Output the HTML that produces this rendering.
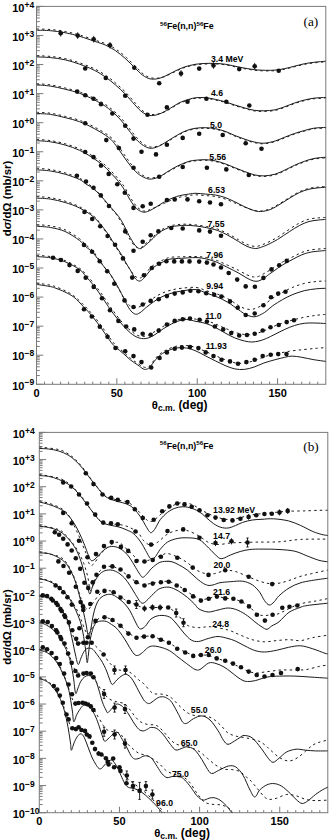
<!DOCTYPE html><html><head><meta charset="utf-8"><style>html,body{margin:0;padding:0;background:#fff;}svg{display:block;}</style></head><body>
<svg width="330" height="840" viewBox="0 0 330 840" font-family='"Liberation Sans", sans-serif'>
<rect width="330" height="840" fill="#fff"/>
<defs><clipPath id="ca"><rect x="36.50" y="6.40" width="289.30" height="377.90"/></clipPath><clipPath id="cb"><rect x="39.30" y="432.40" width="288.50" height="380.30"/></clipPath></defs>
<rect x="36.50" y="6.40" width="289.30" height="377.90" fill="none" stroke="#7a7a7a" stroke-width="1"/>
<path d="M36.50,6.40h6.8 M36.50,26.72h3.3 M36.50,21.60h3.3 M36.50,17.97h3.3 M36.50,15.15h3.3 M36.50,12.85h3.3 M36.50,10.90h3.3 M36.50,9.22h3.3 M36.50,7.73h3.3 M36.50,35.47h6.8 M36.50,55.79h3.3 M36.50,50.67h3.3 M36.50,47.04h3.3 M36.50,44.22h3.3 M36.50,41.92h3.3 M36.50,39.97h3.3 M36.50,38.29h3.3 M36.50,36.80h3.3 M36.50,64.54h6.8 M36.50,84.86h3.3 M36.50,79.74h3.3 M36.50,76.11h3.3 M36.50,73.29h3.3 M36.50,70.99h3.3 M36.50,69.04h3.3 M36.50,67.36h3.3 M36.50,65.87h3.3 M36.50,93.61h6.8 M36.50,113.93h3.3 M36.50,108.81h3.3 M36.50,105.18h3.3 M36.50,102.36h3.3 M36.50,100.06h3.3 M36.50,98.11h3.3 M36.50,96.42h3.3 M36.50,94.94h3.3 M36.50,122.68h6.8 M36.50,143.00h3.3 M36.50,137.88h3.3 M36.50,134.24h3.3 M36.50,131.43h3.3 M36.50,129.13h3.3 M36.50,127.18h3.3 M36.50,125.49h3.3 M36.50,124.01h3.3 M36.50,151.75h6.8 M36.50,172.06h3.3 M36.50,166.95h3.3 M36.50,163.31h3.3 M36.50,160.50h3.3 M36.50,158.20h3.3 M36.50,156.25h3.3 M36.50,154.56h3.3 M36.50,153.08h3.3 M36.50,180.82h6.8 M36.50,201.13h3.3 M36.50,196.02h3.3 M36.50,192.38h3.3 M36.50,189.57h3.3 M36.50,187.26h3.3 M36.50,185.32h3.3 M36.50,183.63h3.3 M36.50,182.15h3.3 M36.50,209.88h6.8 M36.50,230.20h3.3 M36.50,225.08h3.3 M36.50,221.45h3.3 M36.50,218.64h3.3 M36.50,216.33h3.3 M36.50,214.39h3.3 M36.50,212.70h3.3 M36.50,211.21h3.3 M36.50,238.95h6.8 M36.50,259.27h3.3 M36.50,254.15h3.3 M36.50,250.52h3.3 M36.50,247.70h3.3 M36.50,245.40h3.3 M36.50,243.46h3.3 M36.50,241.77h3.3 M36.50,240.28h3.3 M36.50,268.02h6.8 M36.50,288.34h3.3 M36.50,283.22h3.3 M36.50,279.59h3.3 M36.50,276.77h3.3 M36.50,274.47h3.3 M36.50,272.53h3.3 M36.50,270.84h3.3 M36.50,269.35h3.3 M36.50,297.09h6.8 M36.50,317.41h3.3 M36.50,312.29h3.3 M36.50,308.66h3.3 M36.50,305.84h3.3 M36.50,303.54h3.3 M36.50,301.60h3.3 M36.50,299.91h3.3 M36.50,298.42h3.3 M36.50,326.16h6.8 M36.50,346.48h3.3 M36.50,341.36h3.3 M36.50,337.73h3.3 M36.50,334.91h3.3 M36.50,332.61h3.3 M36.50,330.66h3.3 M36.50,328.98h3.3 M36.50,327.49h3.3 M36.50,355.23h6.8 M36.50,375.55h3.3 M36.50,370.43h3.3 M36.50,366.80h3.3 M36.50,363.98h3.3 M36.50,361.68h3.3 M36.50,359.73h3.3 M36.50,358.05h3.3 M36.50,356.56h3.3 M36.50,384.30h6.8 M44.54,384.30v-2.6 M52.57,384.30v-2.6 M60.61,384.30v-2.6 M68.64,384.30v-2.6 M76.68,384.30v-2.6 M84.72,384.30v-2.6 M92.75,384.30v-2.6 M100.79,384.30v-2.6 M108.83,384.30v-2.6 M116.86,384.30v-6 M124.90,384.30v-2.6 M132.93,384.30v-2.6 M140.97,384.30v-2.6 M149.01,384.30v-2.6 M157.04,384.30v-2.6 M165.08,384.30v-2.6 M173.11,384.30v-2.6 M181.15,384.30v-2.6 M189.19,384.30v-2.6 M197.22,384.30v-6 M205.26,384.30v-2.6 M213.29,384.30v-2.6 M221.33,384.30v-2.6 M229.37,384.30v-2.6 M237.40,384.30v-2.6 M245.44,384.30v-2.6 M253.48,384.30v-2.6 M261.51,384.30v-2.6 M269.55,384.30v-2.6 M277.58,384.30v-6 M285.62,384.30v-2.6 M293.66,384.30v-2.6 M301.69,384.30v-2.6 M309.73,384.30v-2.6 M317.76,384.30v-2.6" stroke="#7a7a7a" stroke-width="1" fill="none"/>
<text x="12.20" y="11.60" font-size="11" font-weight="bold">10<tspan font-size="8.5" dy="-4.1">+4</tspan></text>
<text x="12.20" y="40.67" font-size="11" font-weight="bold">10<tspan font-size="8.5" dy="-4.1">+3</tspan></text>
<text x="12.20" y="69.74" font-size="11" font-weight="bold">10<tspan font-size="8.5" dy="-4.1">+2</tspan></text>
<text x="12.20" y="98.81" font-size="11" font-weight="bold">10<tspan font-size="8.5" dy="-4.1">+1</tspan></text>
<text x="12.20" y="127.88" font-size="11" font-weight="bold">10<tspan font-size="8.5" dy="-4.1">+0</tspan></text>
<text x="12.20" y="156.95" font-size="11" font-weight="bold">10<tspan font-size="8.5" dy="-4.1">&#8722;1</tspan></text>
<text x="12.20" y="186.02" font-size="11" font-weight="bold">10<tspan font-size="8.5" dy="-4.1">&#8722;2</tspan></text>
<text x="12.20" y="215.08" font-size="11" font-weight="bold">10<tspan font-size="8.5" dy="-4.1">&#8722;3</tspan></text>
<text x="12.20" y="244.15" font-size="11" font-weight="bold">10<tspan font-size="8.5" dy="-4.1">&#8722;4</tspan></text>
<text x="12.20" y="273.22" font-size="11" font-weight="bold">10<tspan font-size="8.5" dy="-4.1">&#8722;5</tspan></text>
<text x="12.20" y="302.29" font-size="11" font-weight="bold">10<tspan font-size="8.5" dy="-4.1">&#8722;6</tspan></text>
<text x="12.20" y="331.36" font-size="11" font-weight="bold">10<tspan font-size="8.5" dy="-4.1">&#8722;7</tspan></text>
<text x="12.20" y="360.43" font-size="11" font-weight="bold">10<tspan font-size="8.5" dy="-4.1">&#8722;8</tspan></text>
<text x="12.20" y="389.50" font-size="11" font-weight="bold">10<tspan font-size="8.5" dy="-4.1">&#8722;9</tspan></text>
<text x="36.50" y="397.00" text-anchor="middle" font-size="11" font-weight="bold">0</text>
<text x="116.86" y="397.00" text-anchor="middle" font-size="11" font-weight="bold">50</text>
<text x="197.22" y="397.00" text-anchor="middle" font-size="11" font-weight="bold">100</text>
<text x="277.58" y="397.00" text-anchor="middle" font-size="11" font-weight="bold">150</text>
<text x="151.80" y="409.20" font-size="11.3" font-weight="bold">&#952;<tspan font-size="8.6" dy="1.5">c.m.</tspan><tspan dy="-1.5" font-size="11.9"> (deg)</tspan></text>
<text transform="translate(11.40,198.50) rotate(-90)" text-anchor="middle" font-size="11.4" font-weight="bold">d<tspan font-style="italic">&#963;</tspan>/d&#937; (mb/sr)</text>
<text x="160.00" y="29.30" font-size="8.9" font-weight="bold"><tspan font-size="6.2" dy="-3.4">56</tspan><tspan dy="3.4">Fe(n,n)</tspan><tspan font-size="6.2" dy="-3.4">56</tspan><tspan dy="3.4">Fe</tspan></text>
<text x="303.50" y="25.60" font-family="'Liberation Serif', serif" font-size="13.3">(a)</text>
<g clip-path="url(#ca)">
<path d="M36.50,30.20 C38.83,30.28 45.73,30.28 50.50,30.70 C55.27,31.12 60.25,31.77 65.10,32.70 C69.95,33.63 74.75,34.88 79.60,36.30 C84.45,37.72 89.85,39.72 94.20,41.20 C98.55,42.68 102.17,43.63 105.70,45.20 C109.23,46.77 112.17,48.42 115.40,50.60 C118.63,52.78 121.87,55.43 125.10,58.30 C128.33,61.17 131.87,64.98 134.80,67.80 C137.73,70.62 140.18,73.37 142.70,75.20 C145.22,77.03 147.48,78.20 149.90,78.80 C152.32,79.40 154.77,79.20 157.20,78.80 C159.63,78.40 161.67,77.62 164.50,76.40 C167.33,75.18 170.97,73.03 174.20,71.50 C177.43,69.97 180.27,68.42 183.90,67.20 C187.53,65.98 191.57,64.85 196.00,64.20 C200.43,63.55 205.65,63.30 210.50,63.30 C215.35,63.30 220.25,63.55 225.10,64.20 C229.95,64.85 234.75,66.30 239.60,67.20 C244.45,68.10 249.90,69.08 254.20,69.60 C258.50,70.12 261.92,70.22 265.40,70.30 C268.88,70.38 271.87,70.38 275.10,70.10 C278.33,69.82 281.57,69.25 284.80,68.60 C288.03,67.95 291.27,67.00 294.50,66.20 C297.73,65.40 300.97,64.45 304.20,63.80 C307.43,63.15 310.30,62.73 313.90,62.30 C317.50,61.87 323.82,61.38 325.80,61.20 M36.50,56.90 C38.83,57.02 45.73,57.12 50.50,57.60 C55.27,58.08 60.25,58.70 65.10,59.80 C69.95,60.90 74.75,62.47 79.60,64.20 C84.45,65.93 89.85,68.03 94.20,70.20 C98.55,72.37 102.17,74.75 105.70,77.20 C109.23,79.65 112.17,82.12 115.40,84.90 C118.63,87.68 121.87,90.58 125.10,93.90 C128.33,97.22 131.97,101.78 134.80,104.80 C137.63,107.82 139.68,110.23 142.10,112.00 C144.52,113.77 146.78,114.95 149.30,115.40 C151.82,115.85 154.32,115.52 157.20,114.70 C160.08,113.88 162.97,112.45 166.60,110.50 C170.23,108.55 175.32,104.85 179.00,103.00 C182.68,101.15 185.87,100.28 188.70,99.40 C191.53,98.52 193.17,97.98 196.00,97.70 C198.83,97.42 202.47,97.42 205.70,97.70 C208.93,97.98 212.17,98.72 215.40,99.40 C218.63,100.08 221.87,100.87 225.10,101.80 C228.33,102.73 231.57,103.98 234.80,105.00 C238.03,106.02 241.27,107.02 244.50,107.90 C247.73,108.78 250.97,109.82 254.20,110.30 C257.43,110.78 260.42,110.88 263.90,110.80 C267.38,110.72 271.62,110.48 275.10,109.80 C278.58,109.12 281.57,107.83 284.80,106.70 C288.03,105.57 291.27,104.10 294.50,103.00 C297.73,101.90 300.97,100.90 304.20,100.10 C307.43,99.30 310.30,98.65 313.90,98.20 C317.50,97.75 323.82,97.53 325.80,97.40 M36.50,84.80 C38.83,85.02 45.73,85.37 50.50,86.10 C55.27,86.83 60.25,88.00 65.10,89.20 C69.95,90.40 74.75,91.53 79.60,93.30 C84.45,95.07 89.85,97.60 94.20,99.80 C98.55,102.00 102.07,103.97 105.70,106.50 C109.33,109.03 113.07,112.25 116.00,115.00 C118.93,117.75 120.88,120.08 123.30,123.00 C125.72,125.92 128.08,129.50 130.50,132.50 C132.92,135.50 135.37,138.67 137.80,141.00 C140.23,143.33 142.87,145.28 145.10,146.50 C147.33,147.72 148.98,148.32 151.20,148.30 C153.42,148.28 155.78,147.53 158.40,146.40 C161.02,145.27 163.87,143.32 166.90,141.50 C169.93,139.68 173.37,137.32 176.60,135.50 C179.83,133.68 183.07,131.82 186.30,130.60 C189.53,129.38 192.77,128.68 196.00,128.20 C199.23,127.72 202.47,127.62 205.70,127.70 C208.93,127.78 212.17,128.10 215.40,128.70 C218.63,129.30 221.87,130.17 225.10,131.30 C228.33,132.43 231.57,134.20 234.80,135.50 C238.03,136.80 241.27,138.02 244.50,139.10 C247.73,140.18 250.97,141.32 254.20,142.00 C257.43,142.68 260.42,143.37 263.90,143.20 C267.38,143.03 271.62,142.00 275.10,141.00 C278.58,140.00 281.57,138.45 284.80,137.20 C288.03,135.95 291.27,134.60 294.50,133.50 C297.73,132.40 300.97,131.48 304.20,130.60 C307.43,129.72 310.30,128.73 313.90,128.20 C317.50,127.67 323.82,127.53 325.80,127.40 M36.50,113.50 C38.83,113.65 45.73,113.72 50.50,114.40 C55.27,115.08 60.25,116.38 65.10,117.60 C69.95,118.82 74.75,119.88 79.60,121.70 C84.45,123.52 89.35,125.87 94.20,128.50 C99.05,131.13 105.07,134.67 108.70,137.50 C112.33,140.33 113.57,142.42 116.00,145.50 C118.43,148.58 120.88,152.62 123.30,156.00 C125.72,159.38 128.08,162.88 130.50,165.80 C132.92,168.72 135.37,171.48 137.80,173.50 C140.23,175.52 142.87,176.97 145.10,177.90 C147.33,178.83 148.78,179.30 151.20,179.10 C153.62,178.90 156.58,178.12 159.60,176.70 C162.62,175.28 166.07,172.50 169.30,170.60 C172.53,168.70 175.77,166.83 179.00,165.30 C182.23,163.77 185.87,162.25 188.70,161.40 C191.53,160.55 193.17,160.48 196.00,160.20 C198.83,159.92 202.47,159.58 205.70,159.70 C208.93,159.82 212.17,160.22 215.40,160.90 C218.63,161.58 221.87,162.67 225.10,163.80 C228.33,164.93 231.57,166.42 234.80,167.70 C238.03,168.98 241.27,170.32 244.50,171.50 C247.73,172.68 250.97,174.07 254.20,174.80 C257.43,175.53 260.42,176.00 263.90,175.90 C267.38,175.80 271.62,175.17 275.10,174.20 C278.58,173.23 281.57,171.58 284.80,170.10 C288.03,168.62 291.27,166.75 294.50,165.30 C297.73,163.85 300.97,162.53 304.20,161.40 C307.43,160.27 310.30,159.20 313.90,158.50 C317.50,157.80 323.82,157.42 325.80,157.20 M36.50,140.60 C38.83,140.80 45.73,141.07 50.50,141.80 C55.27,142.53 60.25,143.58 65.10,145.00 C69.95,146.42 75.15,148.27 79.60,150.30 C84.05,152.33 87.75,154.57 91.80,157.20 C95.85,159.83 100.27,162.97 103.90,166.10 C107.53,169.23 110.93,173.13 113.60,176.00 C116.27,178.87 118.03,180.88 119.90,183.30 C121.77,185.72 123.03,187.62 124.80,190.50 C126.57,193.38 128.53,197.58 130.50,200.60 C132.47,203.62 134.57,206.70 136.60,208.60 C138.63,210.50 140.88,211.52 142.70,212.00 C144.52,212.48 145.48,212.18 147.50,211.50 C149.52,210.82 151.97,209.52 154.80,207.90 C157.63,206.28 160.87,203.70 164.50,201.80 C168.13,199.90 172.57,197.78 176.60,196.50 C180.63,195.22 185.47,194.63 188.70,194.10 C191.93,193.57 193.17,193.30 196.00,193.30 C198.83,193.30 202.47,193.82 205.70,194.10 C208.93,194.38 212.17,194.43 215.40,195.00 C218.63,195.57 221.87,196.37 225.10,197.50 C228.33,198.63 231.57,200.27 234.80,201.80 C238.03,203.33 241.42,205.28 244.50,206.70 C247.58,208.12 250.63,209.50 253.30,210.30 C255.97,211.10 257.68,211.62 260.50,211.50 C263.32,211.38 266.95,210.82 270.20,209.60 C273.45,208.38 276.77,206.10 280.00,204.20 C283.23,202.30 286.38,200.13 289.60,198.20 C292.82,196.27 296.07,194.10 299.30,192.60 C302.53,191.10 305.77,190.00 309.00,189.20 C312.23,188.40 315.90,188.12 318.70,187.80 C321.50,187.48 324.62,187.38 325.80,187.30 M36.50,169.80 C38.83,170.00 45.73,170.27 50.50,171.00 C55.27,171.73 60.25,172.78 65.10,174.20 C69.95,175.62 76.12,177.87 79.60,179.50 C83.08,181.13 83.72,182.47 86.00,184.00 C88.28,185.53 90.88,186.80 93.30,188.70 C95.72,190.60 98.08,192.87 100.50,195.40 C102.92,197.93 105.62,201.38 107.80,203.90 C109.98,206.42 111.83,208.45 113.60,210.50 C115.37,212.55 116.90,214.17 118.40,216.20 C119.90,218.23 121.37,220.55 122.60,222.70 C123.83,224.85 124.73,226.97 125.80,229.10 C126.87,231.23 127.95,233.55 129.00,235.50 C130.05,237.45 131.13,239.22 132.10,240.80 C133.07,242.38 133.90,243.87 134.80,245.00 C135.70,246.13 136.62,246.98 137.50,247.60 C138.38,248.22 139.05,248.87 140.10,248.70 C141.15,248.53 142.62,247.43 143.80,246.60 C144.98,245.77 145.62,245.10 147.20,243.70 C148.78,242.30 151.40,240.00 153.30,238.20 C155.20,236.40 156.58,234.42 158.60,232.90 C160.62,231.38 163.25,230.12 165.40,229.10 C167.55,228.08 169.40,227.35 171.50,226.80 C173.60,226.25 175.58,226.05 178.00,225.80 C180.42,225.55 183.00,225.27 186.00,225.30 C189.00,225.33 192.57,225.60 196.00,226.00 C199.43,226.40 203.07,226.98 206.60,227.70 C210.13,228.42 213.67,229.05 217.20,230.30 C220.73,231.55 224.25,233.33 227.80,235.20 C231.35,237.07 235.30,239.63 238.50,241.50 C241.70,243.37 244.18,245.23 247.00,246.40 C249.82,247.57 252.93,248.40 255.40,248.50 C257.87,248.60 259.70,247.67 261.80,247.00 C263.90,246.33 265.38,245.75 268.00,244.50 C270.62,243.25 273.90,241.67 277.50,239.50 C281.10,237.33 285.97,233.82 289.60,231.50 C293.23,229.18 296.07,227.27 299.30,225.60 C302.53,223.93 305.77,222.43 309.00,221.50 C312.23,220.57 315.90,220.35 318.70,220.00 C321.50,219.65 324.62,219.50 325.80,219.40 M36.50,198.10 C38.83,198.27 45.73,198.37 50.50,199.10 C55.27,199.83 60.25,201.02 65.10,202.50 C69.95,203.98 74.75,205.50 79.60,208.00 C84.45,210.50 89.70,213.50 94.20,217.50 C98.70,221.50 103.32,227.70 106.60,232.00 C109.88,236.30 111.47,239.60 113.90,243.30 C116.33,247.00 119.18,250.92 121.20,254.20 C123.22,257.48 124.53,260.47 126.00,263.00 C127.47,265.53 128.53,266.92 130.00,269.40 C131.47,271.88 133.38,275.98 134.80,277.90 C136.22,279.82 137.38,280.50 138.50,280.90 C139.62,281.30 140.28,281.12 141.50,280.30 C142.72,279.48 144.28,277.72 145.80,276.00 C147.32,274.28 148.78,271.80 150.60,270.00 C152.42,268.20 154.48,266.62 156.70,265.20 C158.92,263.78 161.68,262.52 163.90,261.50 C166.12,260.48 167.07,259.63 170.00,259.10 C172.93,258.57 177.17,258.55 181.50,258.30 C185.83,258.05 191.82,257.48 196.00,257.60 C200.18,257.72 203.07,258.20 206.60,259.00 C210.13,259.80 213.67,260.98 217.20,262.40 C220.73,263.82 224.25,265.73 227.80,267.50 C231.35,269.27 235.30,271.23 238.50,273.00 C241.70,274.77 244.53,276.78 247.00,278.10 C249.47,279.42 251.37,280.42 253.30,280.90 C255.23,281.38 256.82,281.45 258.60,281.00 C260.38,280.55 262.52,279.12 264.00,278.20 C265.48,277.28 266.05,276.57 267.50,275.50 C268.95,274.43 270.22,273.55 272.70,271.80 C275.18,270.05 279.17,267.02 282.40,265.00 C285.63,262.98 288.87,261.40 292.10,259.70 C295.33,258.00 298.57,256.08 301.80,254.80 C305.03,253.52 307.50,252.72 311.50,252.00 C315.50,251.28 323.42,250.75 325.80,250.50 M36.50,226.20 C38.83,226.42 45.73,226.62 50.50,227.50 C55.27,228.38 60.25,229.33 65.10,231.50 C69.95,233.67 76.12,237.93 79.60,240.50 C83.08,243.07 83.92,245.02 86.00,246.90 C88.08,248.78 89.88,249.48 92.10,251.80 C94.32,254.12 96.88,257.77 99.30,260.80 C101.72,263.83 104.57,267.47 106.60,270.00 C108.63,272.53 109.33,272.67 111.50,276.00 C113.67,279.33 117.12,285.40 119.60,290.00 C122.08,294.60 124.52,300.12 126.40,303.60 C128.28,307.08 129.38,309.13 130.90,310.90 C132.42,312.67 133.98,313.90 135.50,314.20 C137.02,314.50 138.18,313.85 140.00,312.70 C141.82,311.55 144.13,309.12 146.40,307.30 C148.67,305.48 151.18,303.47 153.60,301.80 C156.02,300.13 158.17,298.67 160.90,297.30 C163.63,295.93 166.57,294.65 170.00,293.60 C173.43,292.55 177.17,291.67 181.50,291.00 C185.83,290.33 191.82,289.23 196.00,289.60 C200.18,289.97 203.07,291.97 206.60,293.20 C210.13,294.43 213.67,295.48 217.20,297.00 C220.73,298.52 224.25,300.18 227.80,302.30 C231.35,304.42 235.67,307.75 238.50,309.70 C241.33,311.65 242.68,312.87 244.80,314.00 C246.92,315.13 249.25,316.08 251.20,316.50 C253.15,316.92 254.73,316.92 256.50,316.50 C258.27,316.08 260.22,314.85 261.80,314.00 C263.38,313.15 264.18,312.77 266.00,311.40 C267.82,310.03 269.97,307.75 272.70,305.80 C275.43,303.85 279.17,301.53 282.40,299.70 C285.63,297.87 288.47,296.30 292.10,294.80 C295.73,293.30 300.17,291.70 304.20,290.70 C308.23,289.70 312.70,289.20 316.30,288.80 C319.90,288.40 324.22,288.38 325.80,288.30 M36.50,256.60 C38.83,256.80 45.73,256.93 50.50,257.80 C55.27,258.67 60.25,259.85 65.10,261.80 C69.95,263.75 76.12,267.05 79.60,269.50 C83.08,271.95 83.65,273.83 86.00,276.50 C88.35,279.17 91.03,282.08 93.70,285.50 C96.37,288.92 99.28,293.08 102.00,297.00 C104.72,300.92 107.67,305.67 110.00,309.00 C112.33,312.33 113.78,314.20 116.00,317.00 C118.22,319.80 120.88,323.13 123.30,325.80 C125.72,328.47 128.08,331.05 130.50,333.00 C132.92,334.95 135.37,336.57 137.80,337.50 C140.23,338.43 142.67,338.82 145.10,338.60 C147.53,338.38 149.98,337.42 152.40,336.20 C154.82,334.98 157.18,332.92 159.60,331.30 C162.02,329.68 164.07,328.12 166.90,326.50 C169.73,324.88 173.37,322.77 176.60,321.60 C179.83,320.43 183.07,319.53 186.30,319.50 C189.53,319.47 192.77,320.75 196.00,321.40 C199.23,322.05 202.47,322.38 205.70,323.40 C208.93,324.42 212.17,325.90 215.40,327.50 C218.63,329.10 221.87,331.27 225.10,333.00 C228.33,334.73 231.57,336.57 234.80,337.90 C238.03,339.23 241.67,340.32 244.50,341.00 C247.33,341.68 249.38,342.00 251.80,342.00 C254.22,342.00 256.58,341.58 259.00,341.00 C261.42,340.42 263.62,339.63 266.30,338.50 C268.98,337.37 272.02,335.72 275.10,334.20 C278.18,332.68 281.57,330.85 284.80,329.40 C288.03,327.95 291.27,326.52 294.50,325.50 C297.73,324.48 300.97,323.72 304.20,323.30 C307.43,322.88 310.30,322.97 313.90,323.00 C317.50,323.03 323.82,323.42 325.80,323.50 M36.50,284.40 C38.83,284.77 47.25,285.95 50.50,286.60 C53.75,287.25 53.57,287.38 56.00,288.30 C58.43,289.22 62.07,290.58 65.10,292.10 C68.13,293.62 71.17,295.00 74.20,297.40 C77.23,299.80 80.27,303.33 83.30,306.50 C86.33,309.67 89.37,312.73 92.40,316.40 C95.43,320.07 98.37,324.17 101.50,328.50 C104.63,332.83 108.78,339.23 111.20,342.40 C113.62,345.57 113.98,345.65 116.00,347.50 C118.02,349.35 120.88,351.42 123.30,353.50 C125.72,355.58 128.08,358.08 130.50,360.00 C132.92,361.92 135.72,363.53 137.80,365.00 C139.88,366.47 141.63,368.08 143.00,368.80 C144.37,369.52 144.92,369.52 146.00,369.30 C147.08,369.08 147.87,369.13 149.50,367.50 C151.13,365.87 153.97,361.58 155.80,359.50 C157.63,357.42 158.88,356.28 160.50,355.00 C162.12,353.72 163.05,352.93 165.50,351.80 C167.95,350.67 171.73,348.83 175.20,348.20 C178.67,347.57 182.83,347.53 186.30,348.00 C189.77,348.47 192.77,349.67 196.00,351.00 C199.23,352.33 202.47,354.35 205.70,356.00 C208.93,357.65 212.17,359.32 215.40,360.90 C218.63,362.48 221.87,364.17 225.10,365.50 C228.33,366.83 231.57,368.25 234.80,368.90 C238.03,369.55 241.27,369.72 244.50,369.40 C247.73,369.08 250.97,368.07 254.20,367.00 C257.43,365.93 260.42,364.22 263.90,363.00 C267.38,361.78 271.62,360.65 275.10,359.70 C278.58,358.75 281.97,357.90 284.80,357.30 C287.63,356.70 289.27,356.10 292.10,356.10 C294.93,356.10 298.17,356.70 301.80,357.30 C305.43,357.90 309.90,359.02 313.90,359.70 C317.90,360.38 323.82,361.12 325.80,361.40" stroke="#1a1a1a" stroke-width="1" fill="none"/>
<path d="M36.51,29.00 C38.89,29.09 45.93,29.12 50.79,29.56 C55.66,29.99 60.74,30.66 65.69,31.62 C70.64,32.57 75.54,33.84 80.49,35.28 C85.43,36.71 90.96,38.73 95.38,40.24 C99.80,41.74 103.45,42.70 107.00,44.28 C110.55,45.86 113.47,47.52 116.70,49.72 C119.93,51.92 123.17,54.58 126.40,57.46 C129.63,60.34 133.24,64.21 136.10,67.00 C138.96,69.79 141.23,72.44 143.56,74.22 C145.90,75.99 147.82,76.99 150.09,77.65 C152.37,78.31 154.80,78.36 157.20,78.19 C159.60,78.01 161.67,77.62 164.50,76.61 C167.33,75.59 170.97,73.57 174.20,72.10 C177.43,70.63 180.27,69.02 183.90,67.80 C187.53,66.58 191.57,65.45 196.00,64.80 C200.43,64.15 205.65,63.90 210.50,63.90 C215.35,63.90 220.25,64.15 225.10,64.80 C229.95,65.45 234.75,66.90 239.60,67.80 C244.45,68.70 249.90,69.68 254.20,70.20 C258.50,70.72 261.92,70.82 265.40,70.90 C268.88,70.98 271.87,70.98 275.10,70.70 C278.33,70.42 281.57,69.85 284.80,69.20 C288.03,68.55 291.27,67.60 294.50,66.80 C297.73,66.00 300.97,65.05 304.20,64.40 C307.43,63.75 310.30,63.33 313.90,62.90 C317.50,62.47 323.82,61.98 325.80,61.80 M36.51,55.70 C38.89,55.83 45.93,55.96 50.79,56.46 C55.66,56.96 60.74,57.60 65.69,58.72 C70.64,59.84 75.54,61.42 80.49,63.18 C85.43,64.93 90.96,67.05 95.38,69.24 C99.80,71.42 103.45,73.82 107.00,76.28 C110.55,78.75 113.47,81.22 116.70,84.02 C119.93,86.82 123.17,89.73 126.40,93.06 C129.63,96.39 133.33,101.00 136.10,104.00 C138.87,106.99 140.78,109.32 143.02,111.03 C145.26,112.74 147.19,113.75 149.55,114.26 C151.91,114.77 154.36,114.64 157.20,114.09 C160.04,113.53 162.97,112.69 166.60,110.94 C170.23,109.19 175.32,105.42 179.00,103.60 C182.68,101.78 185.87,100.88 188.70,100.00 C191.53,99.12 193.17,98.58 196.00,98.30 C198.83,98.02 202.47,98.02 205.70,98.30 C208.93,98.58 212.17,99.32 215.40,100.00 C218.63,100.68 221.87,101.47 225.10,102.40 C228.33,103.33 231.57,104.58 234.80,105.60 C238.03,106.62 241.27,107.62 244.50,108.50 C247.73,109.38 250.97,110.42 254.20,110.90 C257.43,111.38 260.42,111.48 263.90,111.40 C267.38,111.32 271.62,111.08 275.10,110.40 C278.58,109.72 281.57,108.43 284.80,107.30 C288.03,106.17 291.27,104.70 294.50,103.60 C297.73,102.50 300.97,101.50 304.20,100.70 C307.43,99.90 310.30,99.25 313.90,98.80 C317.50,98.35 323.82,98.13 325.80,98.00 M36.51,83.60 C38.89,83.83 45.93,84.21 50.79,84.96 C55.66,85.71 60.74,86.90 65.69,88.12 C70.64,89.34 75.54,90.49 80.49,92.28 C85.43,94.06 90.96,96.62 95.38,98.84 C99.80,101.05 103.35,103.03 107.00,105.58 C110.65,108.13 114.37,111.36 117.30,114.12 C120.23,116.89 122.18,119.23 124.60,122.15 C127.02,125.08 129.38,128.68 131.80,131.68 C134.22,134.68 136.78,137.84 139.10,140.13 C141.42,142.43 143.71,144.30 145.74,145.46 C147.77,146.63 149.16,147.04 151.27,147.12 C153.38,147.20 155.80,146.78 158.40,145.92 C161.00,145.06 163.87,143.61 166.90,141.98 C169.93,140.34 173.37,137.90 176.60,136.10 C179.83,134.30 183.07,132.42 186.30,131.20 C189.53,129.98 192.77,129.28 196.00,128.80 C199.23,128.32 202.47,128.22 205.70,128.30 C208.93,128.38 212.17,128.70 215.40,129.30 C218.63,129.90 221.87,130.77 225.10,131.90 C228.33,133.03 231.57,134.80 234.80,136.10 C238.03,137.40 241.27,138.62 244.50,139.70 C247.73,140.78 250.97,141.92 254.20,142.60 C257.43,143.28 260.42,143.97 263.90,143.80 C267.38,143.63 271.62,142.60 275.10,141.60 C278.58,140.60 281.57,139.05 284.80,137.80 C288.03,136.55 291.27,135.20 294.50,134.10 C297.73,133.00 300.97,132.08 304.20,131.20 C307.43,130.32 310.30,129.33 313.90,128.80 C317.50,128.27 323.82,128.13 325.80,128.00 M36.51,112.30 C38.89,112.46 45.93,112.56 50.79,113.26 C55.66,113.96 60.74,115.28 65.69,116.52 C70.64,117.75 75.54,118.84 80.49,120.68 C85.43,122.51 90.46,124.88 95.38,127.54 C100.30,130.19 106.35,133.75 110.00,136.59 C113.65,139.44 114.87,141.53 117.30,144.62 C119.73,147.72 122.18,151.76 124.60,155.15 C127.02,158.55 129.38,162.07 131.80,164.98 C134.22,167.90 136.78,170.65 139.10,172.63 C141.42,174.61 143.71,175.98 145.74,176.86 C147.77,177.74 148.96,178.00 151.27,177.92 C153.58,177.83 156.60,177.47 159.60,176.35 C162.60,175.24 166.07,172.94 169.30,171.20 C172.53,169.46 175.77,167.43 179.00,165.90 C182.23,164.37 185.87,162.85 188.70,162.00 C191.53,161.15 193.17,161.08 196.00,160.80 C198.83,160.52 202.47,160.18 205.70,160.30 C208.93,160.42 212.17,160.82 215.40,161.50 C218.63,162.18 221.87,163.27 225.10,164.40 C228.33,165.53 231.57,167.02 234.80,168.30 C238.03,169.58 241.27,170.92 244.50,172.10 C247.73,173.28 250.97,174.67 254.20,175.40 C257.43,176.13 260.42,176.60 263.90,176.50 C267.38,176.40 271.62,175.77 275.10,174.80 C278.58,173.83 281.57,172.18 284.80,170.70 C288.03,169.22 291.27,167.35 294.50,165.90 C297.73,164.45 300.97,163.13 304.20,162.00 C307.43,160.87 310.30,159.80 313.90,159.10 C317.50,158.40 323.82,158.02 325.80,157.80 M36.51,139.40 C38.89,139.61 45.93,139.91 50.79,140.66 C55.66,141.41 60.74,142.48 65.69,143.92 C70.64,145.35 75.95,147.22 80.49,149.28 C85.03,151.33 88.81,153.58 92.93,156.23 C97.05,158.88 101.54,162.03 105.20,165.17 C108.86,168.32 112.23,172.24 114.90,175.11 C117.57,177.99 119.33,180.01 121.20,182.44 C123.07,184.86 124.33,186.77 126.10,189.66 C127.87,192.55 129.83,196.77 131.80,199.78 C133.77,202.80 135.94,205.89 137.90,207.76 C139.86,209.63 141.89,210.56 143.56,210.99 C145.23,211.43 146.05,210.94 147.92,210.37 C149.79,209.79 152.04,208.76 154.80,207.56 C157.56,206.37 160.87,204.80 164.50,203.21 C168.13,201.62 172.57,199.27 176.60,198.00 C180.63,196.73 185.47,196.13 188.70,195.60 C191.93,195.07 193.17,194.80 196.00,194.80 C198.83,194.80 202.47,195.32 205.70,195.60 C208.93,195.88 212.17,195.93 215.40,196.50 C218.63,197.07 221.87,197.93 225.10,199.00 C228.33,200.07 231.57,201.59 234.80,202.94 C238.03,204.29 241.42,205.91 244.50,207.11 C247.58,208.32 250.63,209.51 253.30,210.17 C255.97,210.83 257.68,211.31 260.50,211.08 C263.32,210.85 266.95,210.08 270.20,208.80 C273.45,207.52 276.77,205.30 280.00,203.40 C283.23,201.50 286.38,199.33 289.60,197.40 C292.82,195.47 296.07,193.30 299.30,191.80 C302.53,190.30 305.77,189.20 309.00,188.40 C312.23,187.60 315.90,187.32 318.70,187.00 C321.50,186.68 324.62,186.58 325.80,186.50 M36.50,168.30 C38.83,168.52 45.73,168.82 50.50,169.59 C55.27,170.35 60.25,171.43 65.10,172.87 C69.95,174.32 76.12,176.61 79.60,178.26 C83.08,179.91 83.72,181.25 86.00,182.80 C88.28,184.34 91.02,185.63 93.30,187.54 C95.58,189.46 97.51,191.74 99.67,194.28 C101.84,196.83 104.23,200.30 106.30,202.83 C108.37,205.36 110.33,207.40 112.10,209.46 C113.87,211.52 115.40,213.11 116.90,215.19 C118.40,217.27 119.87,219.71 121.10,221.96 C122.33,224.21 123.23,226.44 124.30,228.68 C125.37,230.92 126.38,233.34 127.50,235.40 C128.62,237.46 129.88,239.33 130.99,241.01 C132.11,242.69 133.13,244.38 134.20,245.48 C135.27,246.58 136.42,247.15 137.41,247.60 C138.39,248.05 139.03,248.56 140.10,248.18 C141.17,247.80 142.62,246.33 143.80,245.34 C144.98,244.35 145.62,243.65 147.20,242.22 C148.78,240.79 151.40,238.56 153.30,236.78 C155.20,234.99 156.58,233.02 158.60,231.52 C160.62,230.03 163.25,228.78 165.40,227.79 C167.55,226.79 169.40,226.07 171.50,225.54 C173.60,225.01 175.58,224.83 178.00,224.60 C180.42,224.37 183.00,224.11 186.00,224.17 C189.00,224.23 192.57,224.56 196.00,224.96 C199.43,225.36 203.07,225.90 206.60,226.57 C210.13,227.23 213.67,227.78 217.20,228.96 C220.73,230.14 224.25,231.85 227.80,233.64 C231.35,235.44 235.30,237.93 238.50,239.73 C241.70,241.53 244.18,243.34 247.00,244.46 C249.82,245.58 252.93,246.38 255.40,246.45 C257.87,246.52 259.70,245.57 261.80,244.88 C263.90,244.19 265.38,243.60 268.00,242.32 C270.62,241.04 273.90,239.43 277.50,237.22 C281.10,235.02 285.97,231.46 289.60,229.10 C293.23,226.75 296.07,224.76 299.30,223.11 C302.53,221.45 305.77,220.05 309.00,219.17 C312.23,218.30 315.90,218.16 318.70,217.86 C321.50,217.56 324.62,217.47 325.80,217.40 M36.50,196.60 C38.83,196.78 45.73,196.92 50.50,197.69 C55.27,198.45 60.25,199.66 65.10,201.17 C69.95,202.69 74.75,204.23 79.60,206.76 C84.45,209.29 89.95,212.32 94.20,216.35 C98.45,220.37 102.07,226.60 105.10,230.92 C108.13,235.24 109.97,238.57 112.40,242.26 C114.83,245.96 117.68,249.89 119.70,253.07 C121.72,256.26 123.03,258.99 124.50,261.37 C125.97,263.75 126.88,265.02 128.50,267.35 C130.12,269.68 132.53,273.57 134.20,275.34 C135.87,277.11 137.28,277.61 138.50,277.95 C139.72,278.30 140.28,278.19 141.50,277.42 C142.72,276.65 144.28,274.97 145.80,273.32 C147.32,271.68 148.78,269.27 150.60,267.55 C152.42,265.84 154.48,264.37 156.70,263.04 C158.92,261.72 161.68,260.55 163.90,259.60 C166.12,258.65 167.07,257.81 170.00,257.35 C172.93,256.89 177.17,256.98 181.50,256.84 C185.83,256.70 191.82,256.36 196.00,256.50 C200.18,256.64 203.07,257.02 206.60,257.71 C210.13,258.40 213.67,259.38 217.20,260.64 C220.73,261.90 224.25,263.66 227.80,265.26 C231.35,266.87 235.30,268.69 238.50,270.29 C241.70,271.89 244.53,273.76 247.00,274.86 C249.47,275.96 251.37,276.65 253.30,276.90 C255.23,277.16 256.82,276.94 258.60,276.39 C260.38,275.83 262.52,274.38 264.00,273.57 C265.48,272.77 266.05,272.39 267.50,271.53 C268.95,270.67 270.22,270.00 272.70,268.44 C275.18,266.87 279.17,263.99 282.40,262.12 C285.63,260.25 288.87,258.84 292.10,257.23 C295.33,255.62 298.57,253.70 301.80,252.46 C305.03,251.23 307.50,250.46 311.50,249.80 C315.50,249.14 323.42,248.71 325.80,248.50 M36.50,224.70 C38.83,224.90 45.73,225.06 50.50,225.91 C55.27,226.77 60.25,227.69 65.10,229.83 C69.95,231.96 76.12,236.19 79.60,238.74 C83.08,241.29 83.92,243.23 86.00,245.10 C88.08,246.97 89.99,247.66 92.10,249.97 C94.21,252.27 96.49,255.90 98.66,258.92 C100.82,261.94 103.21,265.56 105.10,268.08 C106.99,270.60 107.83,270.73 110.00,274.05 C112.17,277.37 115.62,283.74 118.10,288.00 C120.58,292.26 122.99,296.68 124.90,299.60 C126.81,302.52 127.88,304.20 129.57,305.49 C131.26,306.79 133.29,307.18 135.03,307.36 C136.77,307.53 138.11,307.36 140.00,306.56 C141.89,305.75 144.13,303.96 146.40,302.53 C148.67,301.09 151.18,299.41 153.60,297.94 C156.02,296.48 158.17,294.99 160.90,293.74 C163.63,292.48 166.57,291.31 170.00,290.40 C173.43,289.49 177.17,288.75 181.50,288.26 C185.83,287.77 191.82,287.01 196.00,287.44 C200.18,287.87 203.07,289.72 206.60,290.82 C210.13,291.91 213.67,292.69 217.20,294.00 C220.73,295.32 224.25,296.79 227.80,298.69 C231.35,300.59 235.67,303.76 238.50,305.41 C241.33,307.06 242.68,307.92 244.80,308.59 C246.92,309.26 249.25,309.54 251.20,309.44 C253.15,309.34 254.73,308.66 256.50,308.00 C258.27,307.34 260.22,306.31 261.80,305.50 C263.38,304.69 264.18,304.33 266.00,303.14 C267.82,301.94 269.97,300.10 272.70,298.33 C275.43,296.55 279.17,294.28 282.40,292.49 C285.63,290.69 288.47,289.07 292.10,287.57 C295.73,286.06 300.17,284.45 304.20,283.44 C308.23,282.43 312.70,281.93 316.30,281.52 C319.90,281.11 324.22,281.09 325.80,281.00 M36.50,255.40 C38.83,255.60 45.73,255.73 50.50,256.60 C55.27,257.47 60.25,258.65 65.10,260.60 C69.95,262.55 76.12,265.99 79.60,268.30 C83.08,270.61 83.65,271.95 86.00,274.45 C88.35,276.95 91.03,279.99 93.70,283.33 C96.37,286.67 99.28,290.65 102.00,294.48 C104.72,298.31 107.67,302.95 110.00,306.30 C112.33,309.65 113.78,311.69 116.00,314.57 C118.22,317.45 120.88,320.92 123.30,323.57 C125.72,326.23 128.08,328.51 130.50,330.50 C132.92,332.49 135.37,334.55 137.80,335.50 C140.23,336.45 142.67,336.62 145.10,336.20 C147.53,335.78 149.98,334.28 152.40,333.00 C154.82,331.72 157.18,329.92 159.60,328.50 C162.02,327.08 164.07,325.88 166.90,324.50 C169.73,323.12 173.37,321.25 176.60,320.20 C179.83,319.15 183.07,318.37 186.30,318.20 C189.53,318.03 191.97,318.55 196.00,319.20 C200.03,319.85 205.65,320.60 210.50,322.10 C215.35,323.60 220.65,326.38 225.10,328.20 C229.55,330.02 233.17,331.92 237.20,333.00 C241.23,334.08 245.25,334.90 249.30,334.70 C253.35,334.50 257.20,333.28 261.50,331.80 C265.80,330.32 270.42,327.62 275.10,325.80 C279.78,323.98 284.75,322.32 289.60,320.90 C294.45,319.48 299.75,318.23 304.20,317.30 C308.65,316.37 312.70,315.78 316.30,315.30 C319.90,314.82 324.22,314.55 325.80,314.40 M36.50,283.00 C38.83,283.37 47.25,284.55 50.50,285.20 C53.75,285.85 53.57,285.98 56.00,286.90 C58.43,287.82 62.07,289.16 65.10,290.70 C68.13,292.24 71.17,293.85 74.20,296.17 C77.23,298.48 80.27,301.57 83.30,304.60 C86.33,307.63 89.37,310.78 92.40,314.36 C95.43,317.94 98.37,321.83 101.50,326.07 C104.63,330.31 108.78,336.57 111.20,339.81 C113.62,343.05 113.98,343.49 116.00,345.50 C118.02,347.51 120.88,349.76 123.30,351.88 C125.72,354.01 128.08,356.32 130.50,358.26 C132.92,360.19 135.72,362.08 137.80,363.50 C139.88,364.92 141.55,366.17 143.00,366.80 C144.45,367.43 145.33,367.52 146.50,367.30 C147.67,367.08 148.45,367.05 150.00,365.50 C151.55,363.95 154.05,360.00 155.80,358.00 C157.55,356.00 158.88,354.78 160.50,353.50 C162.12,352.22 163.05,351.47 165.50,350.30 C167.95,349.13 171.73,347.30 175.20,346.50 C178.67,345.70 182.83,345.32 186.30,345.50 C189.77,345.68 191.97,346.25 196.00,347.60 C200.03,348.95 205.65,351.58 210.50,353.60 C215.35,355.62 220.45,358.08 225.10,359.70 C229.75,361.32 233.95,363.02 238.40,363.30 C242.85,363.58 247.15,362.60 251.80,361.40 C256.45,360.20 262.42,357.32 266.30,356.10 C270.18,354.88 271.22,354.92 275.10,354.10 C278.98,353.28 284.75,351.97 289.60,351.20 C294.45,350.43 299.75,349.98 304.20,349.50 C308.65,349.02 312.70,348.62 316.30,348.30 C319.90,347.98 324.22,347.72 325.80,347.60" stroke="#1a1a1a" stroke-width="1" fill="none" stroke-dasharray="2.4,3.2"/>
<path d="M60.70,29.90v6.60 M77.70,32.30v6.60 M93.70,35.90v6.60 M110.00,42.00v6.60 M181.00,70.20v6.60 M213.50,62.20v6.60 M254.70,62.90v6.60" stroke="#111" stroke-width="0.9" fill="none"/>
<g fill="#111"><circle cx="60.70" cy="33.20" r="2.3"/><circle cx="77.70" cy="35.60" r="2.3"/><circle cx="93.70" cy="39.20" r="2.3"/><circle cx="110.00" cy="45.30" r="2.3"/><circle cx="134.30" cy="67.80" r="2.3"/><circle cx="159.20" cy="83.20" r="2.3"/><circle cx="181.00" cy="73.50" r="2.3"/><circle cx="199.20" cy="68.60" r="2.3"/><circle cx="213.50" cy="65.50" r="2.3"/><circle cx="239.20" cy="69.10" r="2.3"/><circle cx="254.70" cy="66.20" r="2.3"/><circle cx="278.70" cy="70.80" r="2.3"/><circle cx="85.20" cy="68.50" r="2.3"/><circle cx="105.80" cy="78.00" r="2.3"/><circle cx="125.20" cy="95.80" r="2.3"/><circle cx="147.50" cy="114.70" r="2.3"/><circle cx="166.90" cy="107.40" r="2.3"/><circle cx="187.50" cy="101.80" r="2.3"/><circle cx="206.40" cy="98.70" r="2.3"/><circle cx="226.30" cy="101.80" r="2.3"/><circle cx="249.30" cy="105.50" r="2.3"/><circle cx="77.20" cy="91.60" r="2.3"/><circle cx="85.20" cy="95.30" r="2.3"/><circle cx="93.50" cy="98.70" r="2.3"/><circle cx="101.00" cy="104.20" r="2.3"/><circle cx="112.40" cy="113.50" r="2.3"/><circle cx="125.20" cy="125.80" r="2.3"/><circle cx="133.50" cy="138.60" r="2.3"/><circle cx="141.50" cy="151.70" r="2.3"/><circle cx="156.00" cy="154.40" r="2.3"/><circle cx="166.90" cy="144.70" r="2.3"/><circle cx="182.70" cy="137.90" r="2.3"/><circle cx="199.20" cy="133.80" r="2.3"/><circle cx="222.70" cy="135.00" r="2.3"/><circle cx="245.70" cy="143.20" r="2.3"/><circle cx="261.50" cy="148.80" r="2.3"/><circle cx="85.20" cy="123.20" r="2.3"/><circle cx="106.30" cy="140.10" r="2.3"/><circle cx="118.90" cy="148.00" r="2.3"/><circle cx="133.50" cy="167.70" r="2.3"/><circle cx="159.20" cy="176.70" r="2.3"/><circle cx="182.70" cy="167.00" r="2.3"/><circle cx="206.90" cy="167.70" r="2.3"/><circle cx="226.30" cy="169.40" r="2.3"/><circle cx="248.80" cy="175.00" r="2.3"/><circle cx="85.20" cy="152.00" r="2.3"/><circle cx="93.50" cy="157.10" r="2.3"/><circle cx="101.00" cy="165.60" r="2.3"/><circle cx="108.70" cy="173.90" r="2.3"/><circle cx="117.30" cy="184.20" r="2.3"/><circle cx="124.80" cy="192.70" r="2.3"/><circle cx="133.50" cy="207.90" r="2.3"/><circle cx="142.70" cy="206.20" r="2.3"/><circle cx="150.70" cy="203.80" r="2.3"/><circle cx="166.90" cy="200.10" r="2.3"/><circle cx="174.70" cy="199.40" r="2.3"/><circle cx="187.50" cy="199.40" r="2.3"/><circle cx="199.20" cy="201.30" r="2.3"/><circle cx="210.00" cy="202.50" r="2.3"/><circle cx="221.00" cy="204.20" r="2.3"/><circle cx="76.90" cy="175.80" r="2.3"/><circle cx="86.00" cy="181.50" r="2.3"/><circle cx="93.50" cy="187.80" r="2.3"/><circle cx="100.80" cy="195.40" r="2.3"/><circle cx="109.00" cy="206.00" r="2.3"/><circle cx="125.20" cy="231.40" r="2.3"/><circle cx="133.50" cy="250.80" r="2.3"/><circle cx="142.70" cy="241.80" r="2.3"/><circle cx="150.70" cy="235.30" r="2.3"/><circle cx="158.40" cy="231.40" r="2.3"/><circle cx="171.30" cy="228.00" r="2.3"/><circle cx="182.70" cy="228.50" r="2.3"/><circle cx="199.20" cy="230.40" r="2.3"/><circle cx="210.00" cy="231.60" r="2.3"/><circle cx="221.00" cy="235.80" r="2.3"/><circle cx="84.50" cy="212.00" r="2.3"/><circle cx="92.20" cy="219.00" r="2.3"/><circle cx="100.20" cy="226.20" r="2.3"/><circle cx="107.60" cy="236.00" r="2.3"/><circle cx="115.10" cy="244.70" r="2.3"/><circle cx="123.00" cy="258.40" r="2.3"/><circle cx="132.20" cy="277.60" r="2.3"/><circle cx="143.90" cy="275.20" r="2.3"/><circle cx="151.80" cy="268.00" r="2.3"/><circle cx="159.10" cy="263.70" r="2.3"/><circle cx="166.40" cy="261.30" r="2.3"/><circle cx="174.20" cy="261.40" r="2.3"/><circle cx="181.90" cy="261.40" r="2.3"/><circle cx="189.50" cy="261.40" r="2.3"/><circle cx="199.20" cy="261.60" r="2.3"/><circle cx="206.90" cy="262.60" r="2.3"/><circle cx="213.50" cy="264.50" r="2.3"/><circle cx="221.00" cy="267.50" r="2.3"/><circle cx="228.70" cy="273.00" r="2.3"/><circle cx="237.20" cy="279.60" r="2.3"/><circle cx="245.70" cy="286.40" r="2.3"/><circle cx="254.90" cy="286.80" r="2.3"/><circle cx="263.40" cy="277.90" r="2.3"/><circle cx="271.50" cy="269.40" r="2.3"/><circle cx="279.20" cy="265.30" r="2.3"/><circle cx="286.70" cy="260.90" r="2.3"/><circle cx="84.00" cy="245.00" r="2.3"/><circle cx="92.10" cy="251.80" r="2.3"/><circle cx="99.70" cy="261.20" r="2.3"/><circle cx="107.20" cy="271.20" r="2.3"/><circle cx="114.30" cy="283.80" r="2.3"/><circle cx="124.50" cy="300.40" r="2.3"/><circle cx="133.50" cy="307.00" r="2.3"/><circle cx="142.70" cy="304.50" r="2.3"/><circle cx="150.70" cy="300.90" r="2.3"/><circle cx="158.70" cy="299.20" r="2.3"/><circle cx="166.90" cy="296.10" r="2.3"/><circle cx="174.70" cy="293.60" r="2.3"/><circle cx="182.70" cy="292.40" r="2.3"/><circle cx="190.40" cy="290.70" r="2.3"/><circle cx="198.40" cy="291.20" r="2.3"/><circle cx="206.20" cy="293.20" r="2.3"/><circle cx="214.20" cy="294.80" r="2.3"/><circle cx="221.50" cy="296.50" r="2.3"/><circle cx="230.00" cy="301.40" r="2.3"/><circle cx="237.70" cy="307.70" r="2.3"/><circle cx="245.70" cy="315.00" r="2.3"/><circle cx="254.70" cy="313.50" r="2.3"/><circle cx="263.40" cy="305.30" r="2.3"/><circle cx="271.00" cy="297.30" r="2.3"/><circle cx="278.20" cy="293.60" r="2.3"/><circle cx="285.50" cy="291.70" r="2.3"/><circle cx="53.00" cy="257.80" r="2.3"/><circle cx="61.00" cy="260.00" r="2.3"/><circle cx="69.50" cy="265.10" r="2.3"/><circle cx="77.70" cy="270.90" r="2.3"/><circle cx="85.70" cy="277.70" r="2.3"/><circle cx="93.70" cy="286.90" r="2.3"/><circle cx="102.00" cy="298.30" r="2.3"/><circle cx="110.00" cy="310.20" r="2.3"/><circle cx="118.40" cy="320.90" r="2.3"/><circle cx="126.20" cy="326.50" r="2.3"/><circle cx="134.20" cy="329.40" r="2.3"/><circle cx="142.70" cy="333.80" r="2.3"/><circle cx="150.70" cy="334.70" r="2.3"/><circle cx="158.70" cy="330.60" r="2.3"/><circle cx="166.90" cy="324.50" r="2.3"/><circle cx="174.70" cy="320.90" r="2.3"/><circle cx="182.70" cy="319.20" r="2.3"/><circle cx="190.00" cy="318.50" r="2.3"/><circle cx="199.60" cy="319.70" r="2.3"/><circle cx="206.90" cy="321.60" r="2.3"/><circle cx="214.90" cy="326.50" r="2.3"/><circle cx="223.20" cy="329.40" r="2.3"/><circle cx="231.20" cy="333.00" r="2.3"/><circle cx="239.20" cy="335.50" r="2.3"/><circle cx="246.90" cy="335.00" r="2.3"/><circle cx="254.70" cy="333.80" r="2.3"/><circle cx="262.70" cy="330.50" r="2.3"/><circle cx="270.50" cy="327.30" r="2.3"/><circle cx="278.70" cy="325.00" r="2.3"/><circle cx="286.70" cy="322.10" r="2.3"/><circle cx="294.00" cy="320.20" r="2.3"/><circle cx="84.00" cy="309.20" r="2.3"/><circle cx="91.80" cy="316.50" r="2.3"/><circle cx="99.80" cy="326.70" r="2.3"/><circle cx="107.50" cy="336.80" r="2.3"/><circle cx="115.50" cy="348.00" r="2.3"/><circle cx="125.20" cy="351.20" r="2.3"/><circle cx="133.50" cy="356.10" r="2.3"/><circle cx="141.50" cy="362.10" r="2.3"/><circle cx="151.20" cy="367.50" r="2.3"/><circle cx="159.60" cy="358.00" r="2.3"/><circle cx="166.90" cy="352.40" r="2.3"/><circle cx="174.70" cy="348.80" r="2.3"/><circle cx="181.90" cy="347.60" r="2.3"/><circle cx="190.00" cy="347.10" r="2.3"/><circle cx="198.40" cy="348.10" r="2.3"/><circle cx="205.70" cy="352.40" r="2.3"/><circle cx="213.50" cy="356.10" r="2.3"/><circle cx="221.50" cy="359.70" r="2.3"/><circle cx="230.00" cy="361.40" r="2.3"/><circle cx="238.00" cy="363.80" r="2.3"/><circle cx="246.40" cy="362.10" r="2.3"/><circle cx="254.70" cy="359.70" r="2.3"/><circle cx="262.70" cy="356.10" r="2.3"/><circle cx="270.70" cy="354.80" r="2.3"/><circle cx="278.20" cy="354.10" r="2.3"/><circle cx="286.50" cy="354.10" r="2.3"/></g>
</g>
<text x="211.00" y="62.30" font-size="8.7" font-weight="bold">3.4 MeV</text><text x="211.00" y="95.80" font-size="8.7" font-weight="bold">4.6</text><text x="210.00" y="127.50" font-size="8.7" font-weight="bold">5.0</text><text x="209.30" y="159.70" font-size="8.7" font-weight="bold">5.56</text><text x="208.10" y="193.30" font-size="8.7" font-weight="bold">6.53</text><text x="207.60" y="227.30" font-size="8.7" font-weight="bold">7.55</text><text x="206.20" y="257.60" font-size="8.7" font-weight="bold">7.96</text><text x="206.20" y="289.30" font-size="8.7" font-weight="bold">9.94</text><text x="205.20" y="318.60" font-size="8.7" font-weight="bold">11.0</text><text x="205.70" y="349.20" font-size="8.7" font-weight="bold">11.93</text>
<rect x="39.30" y="432.40" width="288.50" height="380.30" fill="none" stroke="#7a7a7a" stroke-width="1"/>
<path d="M39.30,432.40h6.8 M39.30,451.39h3.3 M39.30,446.60h3.3 M39.30,443.21h3.3 M39.30,440.58h3.3 M39.30,438.43h3.3 M39.30,436.61h3.3 M39.30,435.03h3.3 M39.30,433.64h3.3 M39.30,459.56h6.8 M39.30,478.55h3.3 M39.30,473.77h3.3 M39.30,470.37h3.3 M39.30,467.74h3.3 M39.30,465.59h3.3 M39.30,463.77h3.3 M39.30,462.20h3.3 M39.30,460.81h3.3 M39.30,486.73h6.8 M39.30,505.72h3.3 M39.30,500.93h3.3 M39.30,497.54h3.3 M39.30,494.91h3.3 M39.30,492.75h3.3 M39.30,490.94h3.3 M39.30,489.36h3.3 M39.30,487.97h3.3 M39.30,513.89h6.8 M39.30,532.88h3.3 M39.30,528.10h3.3 M39.30,524.70h3.3 M39.30,522.07h3.3 M39.30,519.92h3.3 M39.30,518.10h3.3 M39.30,516.53h3.3 M39.30,515.14h3.3 M39.30,541.06h6.8 M39.30,560.04h3.3 M39.30,555.26h3.3 M39.30,551.87h3.3 M39.30,549.23h3.3 M39.30,547.08h3.3 M39.30,545.26h3.3 M39.30,543.69h3.3 M39.30,542.30h3.3 M39.30,568.22h6.8 M39.30,587.21h3.3 M39.30,582.43h3.3 M39.30,579.03h3.3 M39.30,576.40h3.3 M39.30,574.25h3.3 M39.30,572.43h3.3 M39.30,570.85h3.3 M39.30,569.46h3.3 M39.30,595.39h6.8 M39.30,614.37h3.3 M39.30,609.59h3.3 M39.30,606.20h3.3 M39.30,603.56h3.3 M39.30,601.41h3.3 M39.30,599.59h3.3 M39.30,598.02h3.3 M39.30,596.63h3.3 M39.30,622.55h6.8 M39.30,641.54h3.3 M39.30,636.75h3.3 M39.30,633.36h3.3 M39.30,630.73h3.3 M39.30,628.58h3.3 M39.30,626.76h3.3 M39.30,625.18h3.3 M39.30,623.79h3.3 M39.30,649.71h6.8 M39.30,668.70h3.3 M39.30,663.92h3.3 M39.30,660.52h3.3 M39.30,657.89h3.3 M39.30,655.74h3.3 M39.30,653.92h3.3 M39.30,652.35h3.3 M39.30,650.96h3.3 M39.30,676.88h6.8 M39.30,695.87h3.3 M39.30,691.08h3.3 M39.30,687.69h3.3 M39.30,685.06h3.3 M39.30,682.90h3.3 M39.30,681.09h3.3 M39.30,679.51h3.3 M39.30,678.12h3.3 M39.30,704.04h6.8 M39.30,723.03h3.3 M39.30,718.25h3.3 M39.30,714.85h3.3 M39.30,712.22h3.3 M39.30,710.07h3.3 M39.30,708.25h3.3 M39.30,706.68h3.3 M39.30,705.29h3.3 M39.30,731.21h6.8 M39.30,750.19h3.3 M39.30,745.41h3.3 M39.30,742.02h3.3 M39.30,739.38h3.3 M39.30,737.23h3.3 M39.30,735.41h3.3 M39.30,733.84h3.3 M39.30,732.45h3.3 M39.30,758.37h6.8 M39.30,777.36h3.3 M39.30,772.58h3.3 M39.30,769.18h3.3 M39.30,766.55h3.3 M39.30,764.40h3.3 M39.30,762.58h3.3 M39.30,761.00h3.3 M39.30,759.61h3.3 M39.30,785.54h6.8 M39.30,804.52h3.3 M39.30,799.74h3.3 M39.30,796.35h3.3 M39.30,793.71h3.3 M39.30,791.56h3.3 M39.30,789.74h3.3 M39.30,788.17h3.3 M39.30,786.78h3.3 M39.30,812.70h6.8 M47.31,812.70v-2.6 M55.33,812.70v-2.6 M63.34,812.70v-2.6 M71.36,812.70v-2.6 M79.37,812.70v-2.6 M87.38,812.70v-2.6 M95.40,812.70v-2.6 M103.41,812.70v-2.6 M111.42,812.70v-2.6 M119.44,812.70v-6 M127.45,812.70v-2.6 M135.47,812.70v-2.6 M143.48,812.70v-2.6 M151.49,812.70v-2.6 M159.51,812.70v-2.6 M167.52,812.70v-2.6 M175.54,812.70v-2.6 M183.55,812.70v-2.6 M191.56,812.70v-2.6 M199.58,812.70v-6 M207.59,812.70v-2.6 M215.61,812.70v-2.6 M223.62,812.70v-2.6 M231.63,812.70v-2.6 M239.65,812.70v-2.6 M247.66,812.70v-2.6 M255.68,812.70v-2.6 M263.69,812.70v-2.6 M271.70,812.70v-2.6 M279.72,812.70v-6 M287.73,812.70v-2.6 M295.74,812.70v-2.6 M303.76,812.70v-2.6 M311.77,812.70v-2.6 M319.79,812.70v-2.6" stroke="#7a7a7a" stroke-width="1" fill="none"/>
<text x="12.70" y="437.60" font-size="11" font-weight="bold">10<tspan font-size="8.5" dy="-4.1">+4</tspan></text>
<text x="12.70" y="464.76" font-size="11" font-weight="bold">10<tspan font-size="8.5" dy="-4.1">+3</tspan></text>
<text x="12.70" y="491.93" font-size="11" font-weight="bold">10<tspan font-size="8.5" dy="-4.1">+2</tspan></text>
<text x="12.70" y="519.09" font-size="11" font-weight="bold">10<tspan font-size="8.5" dy="-4.1">+1</tspan></text>
<text x="12.70" y="546.26" font-size="11" font-weight="bold">10<tspan font-size="8.5" dy="-4.1">+0</tspan></text>
<text x="12.70" y="573.42" font-size="11" font-weight="bold">10<tspan font-size="8.5" dy="-4.1">&#8722;1</tspan></text>
<text x="12.70" y="600.59" font-size="11" font-weight="bold">10<tspan font-size="8.5" dy="-4.1">&#8722;2</tspan></text>
<text x="12.70" y="627.75" font-size="11" font-weight="bold">10<tspan font-size="8.5" dy="-4.1">&#8722;3</tspan></text>
<text x="12.70" y="654.91" font-size="11" font-weight="bold">10<tspan font-size="8.5" dy="-4.1">&#8722;4</tspan></text>
<text x="12.70" y="682.08" font-size="11" font-weight="bold">10<tspan font-size="8.5" dy="-4.1">&#8722;5</tspan></text>
<text x="12.70" y="709.24" font-size="11" font-weight="bold">10<tspan font-size="8.5" dy="-4.1">&#8722;6</tspan></text>
<text x="12.70" y="736.41" font-size="11" font-weight="bold">10<tspan font-size="8.5" dy="-4.1">&#8722;7</tspan></text>
<text x="12.70" y="763.57" font-size="11" font-weight="bold">10<tspan font-size="8.5" dy="-4.1">&#8722;8</tspan></text>
<text x="12.70" y="790.74" font-size="11" font-weight="bold">10<tspan font-size="8.5" dy="-4.1">&#8722;9</tspan></text>
<text x="12.70" y="817.90" font-size="11" font-weight="bold">10<tspan font-size="8.5" dy="-4.1">&#8722;10</tspan></text>
<text x="39.30" y="824.60" text-anchor="middle" font-size="11" font-weight="bold">0</text>
<text x="119.44" y="824.60" text-anchor="middle" font-size="11" font-weight="bold">50</text>
<text x="199.58" y="824.60" text-anchor="middle" font-size="11" font-weight="bold">100</text>
<text x="279.72" y="824.60" text-anchor="middle" font-size="11" font-weight="bold">150</text>
<text x="154.20" y="837.20" font-size="11.3" font-weight="bold">&#952;<tspan font-size="8.6" dy="1.5">c.m.</tspan><tspan dy="-1.5" font-size="11.9"> (deg)</tspan></text>
<text transform="translate(10.50,627.00) rotate(-90)" text-anchor="middle" font-size="11.4" font-weight="bold">d<tspan font-style="italic">&#963;</tspan>/d&#937; (mb/sr)</text>
<text x="159.80" y="448.60" font-size="8.9" font-weight="bold"><tspan font-size="6.2" dy="-3.4">56</tspan><tspan dy="3.4">Fe(n,n)</tspan><tspan font-size="6.2" dy="-3.4">56</tspan><tspan dy="3.4">Fe</tspan></text>
<text x="303.30" y="450.80" font-family="'Liberation Serif', serif" font-size="13.3">(b)</text>
<g clip-path="url(#cb)">
<path d="M39.30,448.50 C40.87,448.58 45.52,448.60 48.70,449.00 C51.88,449.40 55.17,449.90 58.40,450.90 C61.63,451.90 65.27,453.38 68.10,455.00 C70.93,456.62 72.98,458.37 75.40,460.60 C77.82,462.83 80.18,465.48 82.60,468.40 C85.02,471.32 87.47,474.95 89.90,478.10 C92.33,481.25 94.98,484.57 97.20,487.30 C99.42,490.03 101.18,492.60 103.20,494.50 C105.22,496.40 106.67,497.48 109.30,498.70 C111.93,499.92 116.17,500.93 119.00,501.80 C121.83,502.67 123.88,502.82 126.30,503.90 C128.72,504.98 131.08,506.07 133.50,508.30 C135.92,510.53 138.77,514.38 140.80,517.30 C142.83,520.22 144.28,523.43 145.70,525.80 C147.12,528.17 148.30,530.38 149.30,531.50 C150.30,532.62 150.68,533.05 151.70,532.50 C152.72,531.95 153.98,530.33 155.40,528.20 C156.82,526.07 158.18,522.33 160.20,519.70 C162.22,517.07 165.07,514.30 167.50,512.40 C169.93,510.50 172.38,509.23 174.80,508.30 C177.22,507.37 179.58,506.92 182.00,506.80 C184.42,506.68 186.47,506.82 189.30,507.60 C192.13,508.38 196.17,509.83 199.00,511.50 C201.83,513.17 203.88,515.58 206.30,517.60 C208.72,519.62 211.08,521.98 213.50,523.60 C215.92,525.22 218.37,526.57 220.80,527.30 C223.23,528.03 225.67,528.28 228.10,528.00 C230.53,527.72 232.98,526.53 235.40,525.60 C237.82,524.67 239.78,523.33 242.60,522.40 C245.42,521.47 249.07,520.52 252.30,520.00 C255.53,519.48 258.47,519.50 262.00,519.30 C265.53,519.10 269.07,518.53 273.50,518.80 C277.93,519.07 284.07,519.78 288.60,520.90 C293.13,522.02 296.67,523.73 300.70,525.50 C304.73,527.27 309.27,530.00 312.80,531.50 C316.33,533.00 319.40,533.83 321.90,534.50 C324.40,535.17 326.82,535.33 327.80,535.50 M39.30,475.60 C40.87,475.73 45.52,475.78 48.70,476.40 C51.88,477.02 55.17,478.02 58.40,479.30 C61.63,480.58 65.27,482.28 68.10,484.10 C70.93,485.92 72.98,487.77 75.40,490.20 C77.82,492.63 80.18,495.67 82.60,498.70 C85.02,501.73 87.47,505.22 89.90,508.40 C92.33,511.58 95.18,515.43 97.20,517.80 C99.22,520.17 99.98,521.40 102.00,522.60 C104.02,523.80 106.47,524.27 109.30,525.00 C112.13,525.73 116.17,526.20 119.00,527.00 C121.83,527.80 123.88,528.70 126.30,529.80 C128.72,530.90 131.08,531.55 133.50,533.60 C135.92,535.65 138.77,539.27 140.80,542.10 C142.83,544.93 144.28,548.12 145.70,550.60 C147.12,553.08 148.30,555.58 149.30,557.00 C150.30,558.42 150.68,559.15 151.70,559.10 C152.72,559.05 153.98,558.32 155.40,556.70 C156.82,555.08 158.18,551.83 160.20,549.40 C162.22,546.97 164.67,543.92 167.50,542.10 C170.33,540.28 173.97,539.22 177.20,538.50 C180.43,537.78 183.27,537.63 186.90,537.80 C190.53,537.97 195.37,537.80 199.00,539.50 C202.63,541.20 205.47,545.00 208.70,548.00 C211.93,551.00 215.98,555.78 218.40,557.50 C220.82,559.22 221.18,558.72 223.20,558.30 C225.22,557.88 227.67,556.13 230.50,555.00 C233.33,553.87 236.97,552.42 240.20,551.50 C243.43,550.58 246.27,549.90 249.90,549.50 C253.53,549.10 257.15,549.10 262.00,549.10 C266.85,549.10 273.55,549.15 279.00,549.50 C284.45,549.85 290.07,550.15 294.70,551.20 C299.33,552.25 302.77,554.28 306.80,555.80 C310.83,557.32 315.40,559.30 318.90,560.30 C322.40,561.30 326.32,561.55 327.80,561.80 M39.30,502.00 C40.87,502.40 45.52,503.38 48.70,504.40 C51.88,505.42 55.57,506.68 58.40,508.10 C61.23,509.52 63.28,510.68 65.70,512.90 C68.12,515.12 70.68,518.17 72.90,521.40 C75.12,524.63 77.18,528.67 79.00,532.30 C80.82,535.93 82.38,539.77 83.80,543.20 C85.22,546.63 86.48,550.27 87.50,552.90 C88.52,555.53 89.10,557.70 89.90,559.00 C90.70,560.30 91.28,560.83 92.30,560.70 C93.32,560.57 94.38,559.70 96.00,558.20 C97.62,556.70 99.78,553.60 102.00,551.70 C104.22,549.80 106.75,547.53 109.30,546.80 C111.85,546.07 114.77,546.47 117.30,547.30 C119.83,548.13 122.38,549.98 124.50,551.80 C126.62,553.62 128.17,555.62 130.00,558.20 C131.83,560.78 133.83,564.58 135.50,567.30 C137.17,570.02 138.80,572.83 140.00,574.50 C141.20,576.17 141.63,577.30 142.70,577.30 C143.77,577.30 144.88,576.02 146.40,574.50 C147.92,572.98 149.68,570.17 151.80,568.20 C153.92,566.23 156.73,563.85 159.10,562.70 C161.47,561.55 163.85,561.45 166.00,561.30 C168.15,561.15 169.97,561.27 172.00,561.80 C174.03,562.33 175.65,563.13 178.20,564.50 C180.75,565.87 184.27,567.72 187.30,570.00 C190.33,572.28 193.68,575.93 196.40,578.20 C199.12,580.47 201.48,582.38 203.60,583.60 C205.72,584.82 207.28,585.35 209.10,585.50 C210.92,585.65 212.68,584.97 214.50,584.50 C216.32,584.03 217.33,583.17 220.00,582.70 C222.67,582.23 226.73,581.95 230.50,581.70 C234.27,581.45 238.97,580.68 242.60,581.20 C246.23,581.72 249.47,582.98 252.30,584.80 C255.13,586.62 257.57,589.47 259.60,592.10 C261.63,594.73 262.88,598.45 264.50,600.60 C266.12,602.75 267.68,604.80 269.30,605.00 C270.92,605.20 272.58,603.33 274.20,601.80 C275.82,600.27 276.53,598.10 279.00,595.80 C281.47,593.50 285.50,590.13 289.00,588.00 C292.50,585.87 296.20,584.25 300.00,583.00 C303.80,581.75 307.17,581.30 311.80,580.50 C316.43,579.70 325.13,578.58 327.80,578.20 M39.30,526.20 C40.87,526.42 45.52,526.77 48.70,527.50 C51.88,528.23 55.57,529.18 58.40,530.60 C61.23,532.02 63.28,533.70 65.70,536.00 C68.12,538.30 70.88,541.57 72.90,544.40 C74.92,547.23 76.27,549.57 77.80,553.00 C79.33,556.43 80.82,560.67 82.10,565.00 C83.38,569.33 84.52,575.00 85.50,579.00 C86.48,583.00 87.25,586.50 88.00,589.00 C88.75,591.50 89.22,594.50 90.00,594.00 C90.78,593.50 91.48,588.83 92.70,586.00 C93.92,583.17 95.53,579.43 97.30,577.00 C99.07,574.57 101.10,572.57 103.30,571.40 C105.50,570.23 108.17,569.87 110.50,570.00 C112.83,570.13 114.97,570.87 117.30,572.20 C119.63,573.53 122.38,575.78 124.50,578.00 C126.62,580.22 128.17,582.75 130.00,585.50 C131.83,588.25 133.83,591.83 135.50,594.50 C137.17,597.17 138.75,600.05 140.00,601.50 C141.25,602.95 141.93,603.30 143.00,603.20 C144.07,603.10 144.63,602.50 146.40,600.90 C148.17,599.30 151.33,595.67 153.60,593.60 C155.87,591.53 157.42,589.57 160.00,588.50 C162.58,587.43 166.07,586.80 169.10,587.20 C172.13,587.60 175.17,589.22 178.20,590.90 C181.23,592.58 184.58,595.12 187.30,597.30 C190.02,599.48 192.55,602.05 194.50,604.00 C196.45,605.95 196.72,607.67 199.00,609.00 C201.28,610.33 205.03,611.83 208.20,612.00 C211.37,612.17 214.68,610.67 218.00,610.00 C221.32,609.33 224.80,607.97 228.10,608.00 C231.40,608.03 234.57,608.90 237.80,610.20 C241.03,611.50 244.67,613.87 247.50,615.80 C250.33,617.73 252.38,619.93 254.80,621.80 C257.22,623.67 259.97,625.75 262.00,627.00 C264.03,628.25 265.38,629.47 267.00,629.30 C268.62,629.13 269.70,627.25 271.70,626.00 C273.70,624.75 276.12,624.08 279.00,621.80 C281.88,619.52 285.50,614.68 289.00,612.30 C292.50,609.92 296.95,608.63 300.00,607.50 C303.05,606.37 302.67,606.22 307.30,605.50 C311.93,604.78 324.38,603.58 327.80,603.20 M39.30,552.90 C40.87,553.02 45.52,552.83 48.70,553.60 C51.88,554.37 55.57,555.93 58.40,557.50 C61.23,559.07 63.60,560.67 65.70,563.00 C67.80,565.33 69.37,568.33 71.00,571.50 C72.63,574.67 74.08,577.92 75.50,582.00 C76.92,586.08 78.25,591.33 79.50,596.00 C80.75,600.67 81.92,605.33 83.00,610.00 C84.08,614.67 85.20,620.00 86.00,624.00 C86.80,628.00 87.25,632.08 87.80,634.00 C88.35,635.92 88.77,636.50 89.30,635.50 C89.83,634.50 90.30,631.58 91.00,628.00 C91.70,624.42 92.50,618.17 93.50,614.00 C94.50,609.83 95.75,605.75 97.00,603.00 C98.25,600.25 99.50,598.87 101.00,597.50 C102.50,596.13 104.25,595.30 106.00,594.80 C107.75,594.30 109.62,594.05 111.50,594.50 C113.38,594.95 115.13,595.98 117.30,597.50 C119.47,599.02 122.38,601.37 124.50,603.60 C126.62,605.83 128.33,608.17 130.00,610.90 C131.67,613.63 133.13,617.32 134.50,620.00 C135.87,622.68 137.12,625.50 138.20,627.00 C139.28,628.50 139.78,629.17 141.00,629.00 C142.22,628.83 143.83,627.67 145.50,626.00 C147.17,624.33 148.67,620.75 151.00,619.00 C153.33,617.25 156.42,615.83 159.50,615.50 C162.58,615.17 166.63,615.58 169.50,617.00 C172.37,618.42 174.30,621.33 176.70,624.00 C179.10,626.67 181.48,630.33 183.90,633.00 C186.32,635.67 188.77,638.58 191.20,640.00 C193.63,641.42 195.67,641.75 198.50,641.50 C201.33,641.25 204.95,639.33 208.20,638.50 C211.45,637.67 214.70,636.50 218.00,636.50 C221.30,636.50 225.10,637.75 228.00,638.50 C230.90,639.25 232.57,639.75 235.40,641.00 C238.23,642.25 241.77,644.42 245.00,646.00 C248.23,647.58 251.55,649.50 254.80,650.50 C258.05,651.50 260.88,652.03 264.50,652.00 C268.12,651.97 272.48,651.08 276.50,650.30 C280.52,649.52 284.57,648.05 288.60,647.30 C292.63,646.55 296.67,645.55 300.70,645.80 C304.73,646.05 308.75,647.55 312.80,648.80 C316.85,650.05 322.50,652.47 325.00,653.30 C327.50,654.13 327.33,653.72 327.80,653.80 M39.30,579.00 C40.30,579.17 43.10,579.33 45.30,580.00 C47.50,580.67 50.08,581.67 52.50,583.00 C54.92,584.33 57.37,585.92 59.80,588.00 C62.23,590.08 64.87,592.67 67.10,595.50 C69.33,598.33 71.38,601.67 73.20,605.00 C75.02,608.33 76.62,612.00 78.00,615.50 C79.38,619.00 80.47,621.92 81.50,626.00 C82.53,630.08 83.45,635.50 84.20,640.00 C84.95,644.50 85.50,649.22 86.00,653.00 C86.50,656.78 86.78,662.53 87.20,662.70 C87.62,662.87 88.03,657.62 88.50,654.00 C88.97,650.38 89.33,645.00 90.00,641.00 C90.67,637.00 91.58,632.92 92.50,630.00 C93.42,627.08 94.35,624.95 95.50,623.50 C96.65,622.05 98.15,621.72 99.40,621.30 C100.65,620.88 101.83,620.97 103.00,621.00 C104.17,621.03 105.23,621.08 106.40,621.50 C107.57,621.92 108.27,622.33 110.00,623.50 C111.73,624.67 114.45,626.05 116.80,628.50 C119.15,630.95 121.98,635.07 124.10,638.20 C126.22,641.33 127.83,644.67 129.50,647.30 C131.17,649.93 132.73,652.63 134.10,654.00 C135.47,655.37 136.33,655.72 137.70,655.50 C139.07,655.28 140.63,653.98 142.30,652.70 C143.97,651.42 146.00,648.92 147.70,647.80 C149.40,646.68 150.50,646.13 152.50,646.00 C154.50,645.87 156.88,646.23 159.70,647.00 C162.52,647.77 166.17,648.78 169.40,650.60 C172.63,652.42 175.87,655.47 179.10,657.90 C182.33,660.33 186.15,663.28 188.80,665.20 C191.45,667.12 193.13,668.68 195.00,669.40 C196.87,670.12 197.72,670.57 200.00,669.50 C202.28,668.43 206.03,664.00 208.70,663.00 C211.37,662.00 213.45,662.83 216.00,663.50 C218.55,664.17 221.50,665.58 224.00,667.00 C226.50,668.42 228.67,670.25 231.00,672.00 C233.33,673.75 236.00,676.08 238.00,677.50 C240.00,678.92 241.42,679.83 243.00,680.50 C244.58,681.17 245.45,681.48 247.50,681.50 C249.55,681.52 251.98,681.35 255.30,680.60 C258.62,679.85 263.37,677.75 267.40,677.00 C271.43,676.25 274.95,676.25 279.50,676.10 C284.05,675.95 289.65,675.95 294.70,676.10 C299.75,676.25 304.28,676.65 309.80,677.00 C315.32,677.35 324.80,678.00 327.80,678.20 M39.30,596.40 C39.68,596.40 40.20,596.20 41.60,596.40 C43.00,596.60 45.67,596.80 47.70,597.60 C49.73,598.40 51.78,599.58 53.80,601.20 C55.82,602.82 57.98,605.08 59.80,607.30 C61.62,609.52 63.28,611.88 64.70,614.50 C66.12,617.12 67.30,619.97 68.30,623.00 C69.30,626.03 69.92,629.37 70.70,632.70 C71.48,636.03 72.20,639.28 73.00,643.00 C73.80,646.72 74.63,651.42 75.50,655.00 C76.37,658.58 77.28,664.00 78.20,664.50 C79.12,665.00 80.03,660.17 81.00,658.00 C81.97,655.83 83.00,653.08 84.00,651.50 C85.00,649.92 86.00,649.05 87.00,648.50 C88.00,647.95 89.00,648.03 90.00,648.20 C91.00,648.37 91.83,648.45 93.00,649.50 C94.17,650.55 95.67,652.75 97.00,654.50 C98.33,656.25 99.82,658.17 101.00,660.00 C102.18,661.83 103.10,663.50 104.10,665.50 C105.10,667.50 106.10,669.75 107.00,672.00 C107.90,674.25 108.62,676.92 109.50,679.00 C110.38,681.08 111.08,684.33 112.30,684.50 C113.52,684.67 115.13,681.50 116.80,680.00 C118.47,678.50 120.63,676.42 122.30,675.50 C123.97,674.58 125.28,674.05 126.80,674.50 C128.32,674.95 130.03,676.62 131.40,678.20 C132.77,679.78 133.80,681.88 135.00,684.00 C136.20,686.12 137.43,688.73 138.60,690.90 C139.77,693.07 141.02,695.32 142.00,697.00 C142.98,698.68 143.40,699.90 144.50,701.00 C145.60,702.10 147.35,703.43 148.60,703.60 C149.85,703.77 150.40,703.00 152.00,702.00 C153.60,701.00 156.27,698.47 158.20,697.60 C160.13,696.73 162.05,696.65 163.60,696.80 C165.15,696.95 166.13,697.58 167.50,698.50 C168.87,699.42 169.95,699.63 171.80,702.30 C173.65,704.97 176.78,711.18 178.60,714.50 C180.42,717.82 181.33,720.73 182.70,722.20 C184.07,723.67 184.98,723.90 186.80,723.30 C188.62,722.70 191.10,719.83 193.60,718.60 C196.10,717.37 199.07,715.67 201.80,715.90 C204.53,716.13 207.27,717.50 210.00,720.00 C212.73,722.50 215.93,727.48 218.20,730.90 C220.47,734.32 221.97,738.27 223.60,740.50 C225.23,742.73 226.18,744.22 228.00,744.30 C229.82,744.38 232.50,742.13 234.50,741.00 C236.50,739.87 238.42,738.42 240.00,737.50 C241.58,736.58 241.97,735.43 244.00,735.50 C246.03,735.57 249.32,735.73 252.20,737.90 C255.08,740.07 258.63,745.12 261.30,748.50 C263.97,751.88 266.25,755.90 268.20,758.20 C270.15,760.50 271.18,762.30 273.00,762.30 C274.82,762.30 276.87,759.90 279.10,758.20 C281.33,756.50 283.57,753.60 286.40,752.10 C289.23,750.60 292.87,749.52 296.10,749.20 C299.33,748.88 302.57,749.92 305.80,750.20 C309.03,750.48 311.83,750.78 315.50,750.90 C319.17,751.02 325.75,750.90 327.80,750.90 M39.30,622.80 C39.88,622.90 41.20,622.78 42.80,623.40 C44.40,624.02 46.87,625.15 48.90,626.50 C50.93,627.85 53.18,629.65 55.00,631.50 C56.82,633.35 58.30,635.35 59.80,637.60 C61.30,639.85 62.63,642.27 64.00,645.00 C65.37,647.73 66.83,650.83 68.00,654.00 C69.17,657.17 70.08,660.00 71.00,664.00 C71.92,668.00 72.73,673.12 73.50,678.00 C74.27,682.88 74.85,691.63 75.60,693.30 C76.35,694.97 77.10,690.05 78.00,688.00 C78.90,685.95 79.92,682.83 81.00,681.00 C82.08,679.17 83.30,677.92 84.50,677.00 C85.70,676.08 87.03,675.58 88.20,675.50 C89.37,675.42 90.37,675.92 91.50,676.50 C92.63,677.08 93.82,676.92 95.00,679.00 C96.18,681.08 97.38,685.20 98.60,689.00 C99.82,692.80 101.08,698.30 102.30,701.80 C103.52,705.30 105.00,708.18 105.90,710.00 C106.80,711.82 106.78,712.85 107.70,712.70 C108.62,712.55 110.18,710.30 111.40,709.10 C112.62,707.90 113.95,706.35 115.00,705.50 C116.05,704.65 116.48,703.85 117.70,704.00 C118.92,704.15 120.63,704.95 122.30,706.40 C123.97,707.85 125.88,710.13 127.70,712.70 C129.52,715.27 131.38,719.07 133.20,721.80 C135.02,724.53 136.93,727.58 138.60,729.10 C140.27,730.62 141.68,730.90 143.20,730.90 C144.72,730.90 146.48,729.67 147.70,729.10 C148.92,728.53 148.98,727.60 150.50,727.50 C152.02,727.40 154.62,727.25 156.80,728.50 C158.98,729.75 161.32,732.33 163.60,735.00 C165.88,737.67 168.45,742.00 170.50,744.50 C172.55,747.00 173.87,749.42 175.90,750.00 C177.93,750.58 180.80,748.53 182.70,748.00 C184.60,747.47 185.33,746.52 187.30,746.80 C189.27,747.08 192.08,747.60 194.50,749.70 C196.92,751.80 199.77,756.37 201.80,759.40 C203.83,762.43 205.08,765.55 206.70,767.90 C208.32,770.25 209.48,773.10 211.50,773.50 C213.52,773.90 215.97,771.55 218.80,770.30 C221.63,769.05 225.67,766.55 228.50,766.00 C231.33,765.45 233.38,765.47 235.80,767.00 C238.22,768.53 240.63,771.37 243.00,775.20 C245.37,779.03 248.03,786.37 250.00,790.00 C251.97,793.63 253.18,797.00 254.80,797.00 C256.42,797.00 257.67,792.03 259.70,790.00 C261.73,787.97 264.58,785.87 267.00,784.80 C269.42,783.73 271.78,783.38 274.20,783.60 C276.62,783.82 279.07,784.68 281.50,786.10 C283.93,787.52 286.37,789.88 288.80,792.10 C291.23,794.32 293.88,797.50 296.10,799.40 C298.32,801.30 300.08,803.30 302.10,803.50 C304.12,803.70 305.97,802.10 308.20,800.60 C310.43,799.10 313.08,796.32 315.50,794.50 C317.92,792.68 320.65,790.90 322.70,789.70 C324.75,788.50 326.95,787.70 327.80,787.30 M39.30,650.00 C39.68,650.10 40.20,650.10 41.60,650.60 C43.00,651.10 45.67,651.68 47.70,653.00 C49.73,654.32 51.98,656.47 53.80,658.50 C55.62,660.53 57.20,662.88 58.60,665.20 C60.00,667.52 60.98,669.78 62.20,672.40 C63.42,675.02 64.78,677.87 65.90,680.90 C67.02,683.93 68.10,687.37 68.90,690.60 C69.70,693.83 70.10,696.73 70.70,700.30 C71.30,703.87 71.98,708.42 72.50,712.00 C73.02,715.58 73.08,721.38 73.80,721.80 C74.52,722.22 75.53,716.92 76.80,714.50 C78.07,712.08 80.03,708.97 81.40,707.30 C82.77,705.63 83.65,704.58 85.00,704.50 C86.35,704.42 88.27,705.73 89.50,706.80 C90.73,707.87 91.43,709.37 92.40,710.90 C93.37,712.43 94.28,713.78 95.30,716.00 C96.32,718.22 97.37,721.00 98.50,724.20 C99.63,727.40 101.10,732.37 102.10,735.20 C103.10,738.03 103.68,740.43 104.50,741.20 C105.32,741.97 106.18,740.40 107.00,739.80 C107.82,739.20 108.20,738.68 109.40,737.60 C110.60,736.52 112.78,734.13 114.20,733.30 C115.62,732.47 116.55,731.57 117.90,732.60 C119.25,733.63 120.77,736.93 122.30,739.50 C123.83,742.07 125.68,745.37 127.10,748.00 C128.52,750.63 129.58,753.48 130.80,755.30 C132.02,757.12 133.00,758.40 134.40,758.90 C135.80,759.40 137.58,758.80 139.20,758.30 C140.82,757.80 142.48,756.20 144.10,755.90 C145.72,755.60 147.48,755.90 148.90,756.50 C150.32,757.10 151.20,757.80 152.60,759.50 C154.00,761.20 155.72,764.30 157.30,766.70 C158.88,769.10 160.48,772.08 162.10,773.90 C163.72,775.72 165.18,777.18 167.00,777.60 C168.82,778.02 170.78,776.50 173.00,776.40 C175.22,776.30 178.33,776.40 180.30,777.00 C182.27,777.60 183.03,778.28 184.80,780.00 C186.57,781.72 188.87,784.67 190.90,787.30 C192.93,789.93 194.98,793.67 197.00,795.80 C199.02,797.93 200.98,799.70 203.00,800.10 C205.02,800.50 207.28,798.60 209.10,798.20 C210.92,797.80 212.08,797.38 213.90,797.70 C215.72,798.02 217.97,798.80 220.00,800.10 C222.03,801.40 224.28,803.60 226.10,805.50 C227.92,807.40 229.95,810.30 230.90,811.50 C231.85,812.70 231.65,812.50 231.80,812.70 M39.30,678.50 C39.68,678.60 40.20,678.50 41.60,679.10 C43.00,679.70 45.67,680.58 47.70,682.10 C49.73,683.62 51.98,685.97 53.80,688.20 C55.62,690.43 57.20,692.87 58.60,695.50 C60.00,698.13 61.05,700.75 62.20,704.00 C63.35,707.25 64.45,710.67 65.50,715.00 C66.55,719.33 67.67,725.33 68.50,730.00 C69.33,734.67 70.02,739.62 70.50,743.00 C70.98,746.38 70.82,750.30 71.40,750.30 C71.98,750.30 73.07,745.22 74.00,743.00 C74.93,740.78 76.13,738.42 77.00,737.00 C77.87,735.58 78.53,735.02 79.20,734.50 C79.87,733.98 80.28,733.65 81.00,733.90 C81.72,734.15 82.58,734.48 83.50,736.00 C84.42,737.52 85.50,740.50 86.50,743.00 C87.50,745.50 88.53,748.50 89.50,751.00 C90.47,753.50 91.23,755.75 92.30,758.00 C93.37,760.25 94.85,762.80 95.90,764.50 C96.95,766.20 97.68,767.53 98.60,768.20 C99.52,768.87 100.18,769.27 101.40,768.50 C102.62,767.73 104.23,765.02 105.90,763.60 C107.57,762.18 109.63,759.60 111.40,760.00 C113.17,760.40 114.90,763.42 116.50,766.00 C118.10,768.58 119.67,772.67 121.00,775.50 C122.33,778.33 123.30,781.03 124.50,783.00 C125.70,784.97 126.58,786.38 128.20,787.30 C129.82,788.22 131.98,787.70 134.20,788.50 C136.42,789.30 139.07,790.48 141.50,792.10 C143.93,793.72 146.37,795.97 148.80,798.20 C151.23,800.43 153.88,803.08 156.10,805.50 C158.32,807.92 161.10,811.50 162.10,812.70" stroke="#1a1a1a" stroke-width="1" fill="none"/>
<path d="M39.30,447.00 C42.48,447.42 53.60,448.37 58.40,449.50 C63.20,450.63 65.27,452.13 68.10,453.80 C70.93,455.47 72.98,457.22 75.40,459.50 C77.82,461.78 80.18,464.50 82.60,467.50 C85.02,470.50 87.47,474.25 89.90,477.50 C92.33,480.75 94.98,484.25 97.20,487.00 C99.42,489.75 101.18,492.20 103.20,494.00 C105.22,495.80 106.67,496.75 109.30,497.80 C111.93,498.85 115.77,499.48 119.00,500.30 C122.23,501.12 125.87,501.28 128.70,502.70 C131.53,504.12 133.58,506.57 136.00,508.80 C138.42,511.03 141.18,514.08 143.20,516.10 C145.22,518.12 146.47,520.10 148.10,520.90 C149.73,521.70 150.98,521.92 153.00,520.90 C155.02,519.88 157.78,516.82 160.20,514.80 C162.62,512.78 165.07,510.48 167.50,508.80 C169.93,507.12 172.38,505.72 174.80,504.70 C177.22,503.68 179.18,502.75 182.00,502.70 C184.82,502.65 188.87,503.43 191.70,504.40 C194.53,505.37 196.57,507.12 199.00,508.50 C201.43,509.88 203.47,511.32 206.30,512.70 C209.13,514.08 212.77,515.70 216.00,516.80 C219.23,517.90 222.47,518.97 225.70,519.30 C228.93,519.63 232.17,519.28 235.40,518.80 C238.63,518.32 241.87,517.13 245.10,516.40 C248.33,515.67 251.57,514.88 254.80,514.40 C258.03,513.92 260.47,513.90 264.50,513.50 C268.53,513.10 274.98,512.38 279.00,512.00 C283.02,511.62 284.47,511.38 288.60,511.20 C292.73,511.02 298.75,511.05 303.80,510.90 C308.85,510.75 314.90,510.40 318.90,510.30 C322.90,510.20 326.32,510.30 327.80,510.30 M39.30,474.40 C42.48,475.00 53.60,476.57 58.40,478.00 C63.20,479.43 65.27,481.08 68.10,483.00 C70.93,484.92 72.98,487.00 75.40,489.50 C77.82,492.00 80.18,494.92 82.60,498.00 C85.02,501.08 87.47,504.75 89.90,508.00 C92.33,511.25 95.18,515.17 97.20,517.50 C99.22,519.83 99.98,520.92 102.00,522.00 C104.02,523.08 106.47,523.58 109.30,524.00 C112.13,524.42 115.77,524.00 119.00,524.50 C122.23,525.00 125.47,525.58 128.70,527.00 C131.93,528.42 135.98,530.80 138.40,533.00 C140.82,535.20 141.18,538.15 143.20,540.20 C145.22,542.25 148.07,544.98 150.50,545.30 C152.93,545.62 154.97,543.98 157.80,542.10 C160.63,540.22 164.27,535.93 167.50,534.00 C170.73,532.07 173.97,531.08 177.20,530.50 C180.43,529.92 183.27,529.58 186.90,530.50 C190.53,531.42 195.37,534.00 199.00,536.00 C202.63,538.00 205.47,541.08 208.70,542.50 C211.93,543.92 214.77,544.42 218.40,544.50 C222.03,544.58 226.47,543.33 230.50,543.00 C234.53,542.67 238.15,542.65 242.60,542.50 C247.05,542.35 251.13,542.22 257.20,542.10 C263.27,541.98 271.75,542.25 279.00,541.80 C286.25,541.35 292.57,539.85 300.70,539.40 C308.83,538.95 323.28,539.15 327.80,539.10 M39.30,500.80 C40.87,501.20 45.52,502.18 48.70,503.20 C51.88,504.22 55.57,505.48 58.40,506.90 C61.23,508.32 63.68,509.77 65.70,511.70 C67.72,513.63 68.48,514.87 70.50,518.50 C72.52,522.13 75.78,529.08 77.80,533.50 C79.82,537.92 81.18,541.57 82.60,545.00 C84.02,548.43 85.28,551.17 86.30,554.10 C87.32,557.03 87.90,560.70 88.70,562.60 C89.50,564.50 90.08,565.50 91.10,565.50 C92.12,565.50 93.38,564.30 94.80,562.60 C96.22,560.90 97.98,557.40 99.60,555.30 C101.22,553.20 102.48,551.82 104.50,550.00 C106.52,548.18 109.28,545.65 111.70,544.40 C114.12,543.15 116.25,541.48 119.00,542.50 C121.75,543.52 125.45,548.00 128.20,550.50 C130.95,553.00 133.38,555.67 135.50,557.50 C137.62,559.33 139.08,560.92 140.90,561.50 C142.72,562.08 144.28,561.55 146.40,561.00 C148.52,560.45 151.18,559.12 153.60,558.20 C156.02,557.28 158.62,556.28 160.90,555.50 C163.18,554.72 164.42,553.20 167.30,553.50 C170.18,553.80 174.87,555.77 178.20,557.30 C181.53,558.83 184.27,560.58 187.30,562.70 C190.33,564.82 193.37,568.18 196.40,570.00 C199.43,571.82 202.48,573.00 205.50,573.60 C208.52,574.20 211.17,574.12 214.50,573.60 C217.83,573.08 222.02,570.85 225.50,570.50 C228.98,570.15 231.73,570.52 235.40,571.50 C239.07,572.48 243.47,574.78 247.50,576.40 C251.53,578.02 255.97,580.00 259.60,581.20 C263.23,582.40 266.07,583.27 269.30,583.60 C272.53,583.93 275.72,583.72 279.00,583.20 C282.28,582.68 285.50,581.62 289.00,580.50 C292.50,579.38 296.20,577.65 300.00,576.50 C303.80,575.35 307.17,574.68 311.80,573.60 C316.43,572.52 325.13,570.60 327.80,570.00 M39.30,525.00 C42.48,525.75 54.00,527.83 58.40,529.50 C62.80,531.17 63.28,532.67 65.70,535.00 C68.12,537.33 70.77,540.67 72.90,543.50 C75.03,546.33 76.68,548.67 78.50,552.00 C80.32,555.33 82.25,559.33 83.80,563.50 C85.35,567.67 86.77,572.58 87.80,577.00 C88.83,581.42 89.30,588.17 90.00,590.00 C90.70,591.83 91.08,590.00 92.00,588.00 C92.92,586.00 94.12,580.90 95.50,578.00 C96.88,575.10 98.48,572.47 100.30,570.60 C102.12,568.73 104.28,567.48 106.40,566.80 C108.52,566.12 110.88,566.05 113.00,566.50 C115.12,566.95 116.57,567.95 119.10,569.50 C121.63,571.05 125.47,573.78 128.20,575.80 C130.93,577.82 133.08,580.10 135.50,581.60 C137.92,583.10 140.28,584.47 142.70,584.80 C145.12,585.13 147.27,584.03 150.00,583.60 C152.73,583.17 155.98,582.57 159.10,582.20 C162.22,581.83 165.68,580.88 168.70,581.40 C171.72,581.92 174.57,583.95 177.20,585.30 C179.83,586.65 181.87,587.80 184.50,589.50 C187.13,591.20 190.27,593.83 193.00,595.50 C195.73,597.17 198.28,599.02 200.90,599.50 C203.52,599.98 205.98,598.90 208.70,598.40 C211.42,597.90 214.45,596.53 217.20,596.50 C219.95,596.47 222.57,597.83 225.20,598.20 C227.83,598.57 230.30,598.10 233.00,598.70 C235.70,599.30 238.78,600.58 241.40,601.80 C244.02,603.02 246.07,603.97 248.70,606.00 C251.33,608.03 254.57,612.42 257.20,614.00 C259.83,615.58 261.88,615.42 264.50,615.50 C267.12,615.58 270.48,614.83 272.90,614.50 C275.32,614.17 274.78,615.17 279.00,613.50 C283.22,611.83 291.97,606.60 298.20,604.50 C304.43,602.40 311.47,601.88 316.40,600.90 C321.33,599.92 325.90,598.98 327.80,598.60 M39.30,551.70 C42.48,552.47 54.00,554.62 58.40,556.30 C62.80,557.98 63.60,559.47 65.70,561.80 C67.80,564.13 69.37,567.13 71.00,570.30 C72.63,573.47 74.08,576.85 75.50,580.80 C76.92,584.75 78.25,590.13 79.50,594.00 C80.75,597.87 81.92,601.58 83.00,604.00 C84.08,606.42 85.08,607.58 86.00,608.50 C86.92,609.42 87.67,609.92 88.50,609.50 C89.33,609.08 89.92,607.58 91.00,606.00 C92.08,604.42 93.50,602.00 95.00,600.00 C96.50,598.00 98.33,595.50 100.00,594.00 C101.67,592.50 103.17,591.50 105.00,591.00 C106.83,590.50 108.95,590.42 111.00,591.00 C113.05,591.58 115.05,593.08 117.30,594.50 C119.55,595.92 122.68,598.28 124.50,599.50 C126.32,600.72 126.37,600.97 128.20,601.80 C130.03,602.63 133.08,603.55 135.50,604.50 C137.92,605.45 139.98,607.00 142.70,607.50 C145.42,608.00 148.77,607.50 151.80,607.50 C154.83,607.50 158.17,607.45 160.90,607.50 C163.63,607.55 165.65,606.88 168.20,607.80 C170.75,608.72 173.65,610.72 176.20,613.00 C178.75,615.28 181.40,619.33 183.50,621.50 C185.60,623.67 186.30,624.98 188.80,626.00 C191.30,627.02 194.87,627.47 198.50,627.60 C202.13,627.73 205.68,626.40 210.60,626.80 C215.52,627.20 223.08,628.63 228.00,630.00 C232.92,631.37 236.07,633.38 240.10,635.00 C244.13,636.62 248.15,638.57 252.20,639.70 C256.25,640.83 260.35,641.65 264.40,641.80 C268.45,641.95 272.47,640.95 276.50,640.60 C280.53,640.25 284.57,639.70 288.60,639.70 C292.63,639.70 296.67,640.95 300.70,640.60 C304.73,640.25 308.28,638.50 312.80,637.60 C317.32,636.70 325.30,635.60 327.80,635.20 M39.30,578.00 C41.50,578.67 49.08,580.50 52.50,582.00 C55.92,583.50 57.37,584.92 59.80,587.00 C62.23,589.08 64.87,591.75 67.10,594.50 C69.33,597.25 71.38,600.58 73.20,603.50 C75.02,606.42 76.53,608.92 78.00,612.00 C79.47,615.08 80.83,619.00 82.00,622.00 C83.17,625.00 84.00,628.00 85.00,630.00 C86.00,632.00 87.00,634.00 88.00,634.00 C89.00,634.00 89.83,632.00 91.00,630.00 C92.17,628.00 93.50,624.00 95.00,622.00 C96.50,620.00 98.17,618.75 100.00,618.00 C101.83,617.25 103.92,617.17 106.00,617.50 C108.08,617.83 110.08,618.62 112.50,620.00 C114.92,621.38 117.85,623.63 120.50,625.80 C123.15,627.97 125.73,631.13 128.40,633.00 C131.07,634.87 133.88,636.43 136.50,637.00 C139.12,637.57 141.42,636.52 144.10,636.40 C146.78,636.28 149.80,635.75 152.60,636.30 C155.40,636.85 158.18,638.62 160.90,639.70 C163.62,640.78 166.18,641.42 168.90,642.80 C171.62,644.18 174.48,646.47 177.20,648.00 C179.92,649.53 182.53,650.83 185.20,652.00 C187.87,653.17 190.58,654.50 193.20,655.00 C195.82,655.50 198.32,654.92 200.90,655.00 C203.48,655.08 206.07,654.93 208.70,655.50 C211.33,656.07 213.95,657.48 216.70,658.40 C219.45,659.32 222.48,660.03 225.20,661.00 C227.92,661.97 230.37,663.12 233.00,664.20 C235.63,665.28 238.38,666.28 241.00,667.50 C243.62,668.72 246.08,670.58 248.70,671.50 C251.32,672.42 254.07,672.92 256.70,673.00 C259.33,673.08 261.87,672.33 264.50,672.00 C267.13,671.67 269.75,671.33 272.50,671.00 C275.25,670.67 276.80,670.17 281.00,670.00 C285.20,669.83 293.40,670.08 297.70,670.00 C302.00,669.92 303.27,670.08 306.80,669.50 C310.33,668.92 315.40,667.25 318.90,666.50 C322.40,665.75 326.32,665.25 327.80,665.00 M39.30,595.20 C40.70,595.40 45.28,595.60 47.70,596.40 C50.12,597.20 51.78,598.38 53.80,600.00 C55.82,601.62 57.98,603.88 59.80,606.10 C61.62,608.32 63.28,610.68 64.70,613.30 C66.12,615.92 67.25,619.02 68.30,621.80 C69.35,624.58 70.05,627.30 71.00,630.00 C71.95,632.70 73.00,636.00 74.00,638.00 C75.00,640.00 76.00,641.17 77.00,642.00 C78.00,642.83 78.83,642.87 80.00,643.00 C81.17,643.13 82.67,642.87 84.00,642.80 C85.33,642.73 86.67,642.53 88.00,642.60 C89.33,642.67 90.83,642.72 92.00,643.20 C93.17,643.68 93.75,644.37 95.00,645.50 C96.25,646.63 97.98,648.42 99.50,650.00 C101.02,651.58 102.68,653.17 104.10,655.00 C105.52,656.83 106.48,659.10 108.00,661.00 C109.52,662.90 111.37,664.90 113.20,666.40 C115.03,667.90 117.03,669.32 119.00,670.00 C120.97,670.68 123.17,670.10 125.00,670.50 C126.83,670.90 128.33,671.42 130.00,672.40 C131.67,673.38 133.33,674.97 135.00,676.40 C136.67,677.83 138.48,679.73 140.00,681.00 C141.52,682.27 142.23,682.15 144.10,684.00 C145.97,685.85 149.22,690.43 151.20,692.10 C153.18,693.77 154.38,693.67 156.00,694.00 C157.62,694.33 159.23,693.93 160.90,694.10 C162.57,694.27 164.18,694.32 166.00,695.00 C167.82,695.68 169.47,696.30 171.80,698.20 C174.13,700.10 177.27,703.90 180.00,706.40 C182.73,708.90 185.47,711.62 188.20,713.20 C190.93,714.78 193.68,715.45 196.40,715.90 C199.12,716.35 201.78,715.45 204.50,715.90 C207.22,716.35 209.97,717.00 212.70,718.60 C215.43,720.20 218.35,723.10 220.90,725.50 C223.45,727.90 225.30,731.18 228.00,733.00 C230.70,734.82 234.07,735.58 237.10,736.40 C240.13,737.22 242.67,737.15 246.20,737.90 C249.73,738.65 255.17,739.72 258.30,740.90 C261.43,742.08 262.98,743.48 265.00,745.00 C267.02,746.52 267.98,747.90 270.40,750.00 C272.82,752.10 276.43,755.77 279.50,757.60 C282.57,759.43 285.77,761.00 288.80,761.00 C291.83,761.00 294.70,759.43 297.70,757.60 C300.70,755.77 304.25,752.10 306.80,750.00 C309.35,747.90 310.98,746.27 313.00,745.00 C315.02,743.73 316.43,743.23 318.90,742.40 C321.37,741.57 326.32,740.40 327.80,740.00 M39.30,620.60 C40.90,621.22 46.28,622.90 48.90,624.30 C51.52,625.70 53.18,627.22 55.00,629.00 C56.82,630.78 58.30,632.83 59.80,635.00 C61.30,637.17 62.63,639.33 64.00,642.00 C65.37,644.67 66.83,648.00 68.00,651.00 C69.17,654.00 70.00,657.17 71.00,660.00 C72.00,662.83 73.00,666.00 74.00,668.00 C75.00,670.00 76.00,671.08 77.00,672.00 C78.00,672.92 78.83,673.17 80.00,673.50 C81.17,673.83 82.67,673.92 84.00,674.00 C85.33,674.08 86.83,673.83 88.00,674.00 C89.17,674.17 89.83,674.00 91.00,675.00 C92.17,676.00 93.50,677.83 95.00,680.00 C96.50,682.17 98.48,685.73 100.00,688.00 C101.52,690.27 102.52,691.75 104.10,693.60 C105.68,695.45 107.38,697.73 109.50,699.10 C111.62,700.47 114.37,701.05 116.80,701.80 C119.23,702.55 121.98,702.38 124.10,703.60 C126.22,704.82 127.68,706.97 129.50,709.10 C131.32,711.23 133.17,714.28 135.00,716.40 C136.83,718.52 138.38,720.45 140.50,721.80 C142.62,723.15 145.28,723.97 147.70,724.50 C150.12,725.03 152.95,724.42 155.00,725.00 C157.05,725.58 158.10,726.33 160.00,728.00 C161.90,729.67 163.98,732.47 166.40,735.00 C168.82,737.53 171.78,741.38 174.50,743.20 C177.22,745.02 179.97,745.13 182.70,745.90 C185.43,746.67 188.17,746.88 190.90,747.80 C193.63,748.72 196.37,749.67 199.10,751.40 C201.83,753.13 204.57,755.93 207.30,758.20 C210.03,760.47 212.78,763.18 215.50,765.00 C218.22,766.82 220.88,768.33 223.60,769.10 C226.32,769.87 229.07,769.20 231.80,769.60 C234.53,770.00 237.72,770.37 240.00,771.50 C242.28,772.63 243.83,774.98 245.50,776.40 C247.17,777.82 248.03,777.98 250.00,780.00 C251.97,782.02 254.88,785.67 257.30,788.50 C259.72,791.33 262.48,795.18 264.50,797.00 C266.52,798.82 267.37,799.20 269.40,799.40 C271.43,799.60 273.87,799.02 276.70,798.20 C279.53,797.38 283.17,794.90 286.40,794.50 C289.63,794.10 292.87,794.98 296.10,795.80 C299.33,796.62 302.57,798.60 305.80,799.40 C309.03,800.20 311.83,800.48 315.50,800.60 C319.17,800.72 325.75,800.18 327.80,800.10 M39.30,649.00 C40.70,649.50 45.28,650.62 47.70,652.00 C50.12,653.38 51.98,655.30 53.80,657.30 C55.62,659.30 57.20,661.68 58.60,664.00 C60.00,666.32 60.98,668.53 62.20,671.20 C63.42,673.87 64.78,677.03 65.90,680.00 C67.02,682.97 67.97,686.17 68.90,689.00 C69.83,691.83 70.65,694.83 71.50,697.00 C72.35,699.17 73.08,700.92 74.00,702.00 C74.92,703.08 75.83,703.33 77.00,703.50 C78.17,703.67 79.67,703.00 81.00,703.00 C82.33,703.00 83.50,703.08 85.00,703.50 C86.50,703.92 88.67,704.75 90.00,705.50 C91.33,706.25 92.00,706.70 93.00,708.00 C94.00,709.30 94.88,711.40 96.00,713.30 C97.12,715.20 98.48,717.37 99.70,719.40 C100.92,721.43 102.08,723.78 103.30,725.50 C104.52,727.22 105.58,728.70 107.00,729.70 C108.42,730.70 110.18,731.10 111.80,731.50 C113.42,731.90 115.15,731.57 116.70,732.10 C118.25,732.63 119.37,732.85 121.10,734.70 C122.83,736.55 125.08,740.78 127.10,743.20 C129.12,745.62 131.18,747.48 133.20,749.20 C135.22,750.92 137.38,752.58 139.20,753.50 C141.02,754.42 142.48,754.20 144.10,754.70 C145.72,755.20 146.50,755.12 148.90,756.50 C151.30,757.88 155.68,760.70 158.50,763.00 C161.32,765.30 163.38,768.48 165.80,770.30 C168.22,772.12 170.18,772.82 173.00,773.90 C175.82,774.98 179.92,775.38 182.70,776.80 C185.48,778.22 187.32,779.65 189.70,782.40 C192.08,785.15 194.58,790.07 197.00,793.30 C199.42,796.53 201.78,799.98 204.20,801.80 C206.62,803.62 208.67,803.67 211.50,804.20 C214.33,804.73 218.37,804.38 221.20,805.00 C224.03,805.62 226.62,806.62 228.50,807.90 C230.38,809.18 231.83,811.90 232.50,812.70 M39.30,677.30 C40.70,677.92 45.28,679.38 47.70,681.00 C50.12,682.62 51.98,684.78 53.80,687.00 C55.62,689.22 57.20,691.72 58.60,694.30 C60.00,696.88 61.05,699.55 62.20,702.50 C63.35,705.45 64.45,708.92 65.50,712.00 C66.55,715.08 67.58,718.50 68.50,721.00 C69.42,723.50 70.08,725.67 71.00,727.00 C71.92,728.33 72.83,728.75 74.00,729.00 C75.17,729.25 76.67,728.42 78.00,728.50 C79.33,728.58 80.75,729.00 82.00,729.50 C83.25,730.00 84.33,730.42 85.50,731.50 C86.67,732.58 87.87,734.25 89.00,736.00 C90.13,737.75 91.15,739.92 92.30,742.00 C93.45,744.08 94.62,746.67 95.90,748.50 C97.18,750.33 98.33,751.42 100.00,753.00 C101.67,754.58 104.23,756.50 105.90,758.00 C107.57,759.50 108.48,760.67 110.00,762.00 C111.52,763.33 113.18,764.50 115.00,766.00 C116.82,767.50 118.90,769.00 120.90,771.00 C122.90,773.00 124.98,776.00 127.00,778.00 C129.02,780.00 130.83,781.33 133.00,783.00 C135.17,784.67 137.50,786.00 140.00,788.00 C142.50,790.00 145.33,792.50 148.00,795.00 C150.67,797.50 153.67,800.50 156.00,803.00 C158.33,805.50 160.58,808.38 162.00,810.00 C163.42,811.62 164.08,812.25 164.50,812.70" stroke="#1a1a1a" stroke-width="1" fill="none" stroke-dasharray="2.4,3.2"/>
<path d="M248.60,514.10v5.60 M279.50,509.40v6.00 M287.70,507.90v6.00 M215.50,539.90v6.20 M231.50,538.20v6.20 M247.50,538.00v9.00M246.30,538.00h2.4M246.30,547.00h2.4 M136.40,600.50v8.00M135.20,600.50h2.4M135.20,608.50h2.4 M144.50,605.40v6.20 M152.50,604.30v6.20 M160.10,604.40v6.20 M176.20,609.00v8.00M175.00,609.00h2.4M175.00,617.00h2.4 M183.50,618.70v8.00M182.30,618.70h2.4M182.30,626.70h2.4 M114.50,666.00v8.00M113.30,666.00h2.4M113.30,674.00h2.4 M125.50,666.00v8.00M124.30,666.00h2.4M124.30,674.00h2.4 M104.10,689.50v9.00M102.90,689.50h2.4M102.90,698.50h2.4 M114.60,703.10v9.00M113.40,703.10h2.4M113.40,712.10h2.4 M125.00,704.50v9.00M123.80,704.50h2.4M123.80,713.50h2.4 M104.10,727.30v9.00M102.90,727.30h2.4M102.90,736.30h2.4 M114.60,730.00v9.00M113.40,730.00h2.4M113.40,739.00h2.4 M125.00,739.10v9.00M123.80,739.10h2.4M123.80,748.10h2.4 M126.80,771.00v9.00M125.60,771.00h2.4M125.60,780.00h2.4 M133.00,781.60v9.00M131.80,781.60h2.4M131.80,790.60h2.4 M139.60,782.40v17.00M138.40,782.40h2.4M138.40,799.40h2.4 M145.90,781.60v9.00M144.70,781.60h2.4M144.70,790.60h2.4 M152.40,790.00v9.00M151.20,790.00h2.4M151.20,799.00h2.4" stroke="#111" stroke-width="0.9" fill="none"/>
<g fill="#111"><circle cx="85.80" cy="473.20" r="2.3"/><circle cx="93.50" cy="484.10" r="2.3"/><circle cx="102.50" cy="494.50" r="2.3"/><circle cx="111.20" cy="497.90" r="2.3"/><circle cx="117.80" cy="499.90" r="2.3"/><circle cx="127.50" cy="502.00" r="2.3"/><circle cx="134.80" cy="509.30" r="2.3"/><circle cx="142.80" cy="518.00" r="2.3"/><circle cx="153.70" cy="519.70" r="2.3"/><circle cx="162.20" cy="511.20" r="2.3"/><circle cx="169.40" cy="506.40" r="2.3"/><circle cx="177.20" cy="503.50" r="2.3"/><circle cx="184.50" cy="504.40" r="2.3"/><circle cx="191.70" cy="506.80" r="2.3"/><circle cx="199.50" cy="510.30" r="2.3"/><circle cx="207.50" cy="515.20" r="2.3"/><circle cx="215.50" cy="517.60" r="2.3"/><circle cx="223.70" cy="520.00" r="2.3"/><circle cx="232.50" cy="520.40" r="2.3"/><circle cx="240.40" cy="518.80" r="2.3"/><circle cx="248.60" cy="516.90" r="2.3"/><circle cx="256.30" cy="515.30" r="2.3"/><circle cx="264.40" cy="514.00" r="2.3"/><circle cx="271.80" cy="513.70" r="2.3"/><circle cx="279.50" cy="512.40" r="2.3"/><circle cx="287.70" cy="510.90" r="2.3"/><circle cx="63.20" cy="482.40" r="2.3"/><circle cx="71.20" cy="486.50" r="2.3"/><circle cx="79.00" cy="494.50" r="2.3"/><circle cx="87.00" cy="503.50" r="2.3"/><circle cx="95.20" cy="514.60" r="2.3"/><circle cx="103.20" cy="522.60" r="2.3"/><circle cx="111.00" cy="523.30" r="2.3"/><circle cx="117.80" cy="524.30" r="2.3"/><circle cx="135.50" cy="531.50" r="2.3"/><circle cx="151.10" cy="544.60" r="2.3"/><circle cx="167.50" cy="531.00" r="2.3"/><circle cx="183.20" cy="529.40" r="2.3"/><circle cx="199.50" cy="537.70" r="2.3"/><circle cx="215.50" cy="543.00" r="2.3"/><circle cx="231.50" cy="541.30" r="2.3"/><circle cx="247.50" cy="542.50" r="2.3"/><circle cx="63.20" cy="512.90" r="2.3"/><circle cx="71.70" cy="523.30" r="2.3"/><circle cx="79.00" cy="540.80" r="2.3"/><circle cx="87.50" cy="557.30" r="2.3"/><circle cx="96.00" cy="554.10" r="2.3"/><circle cx="104.00" cy="546.10" r="2.3"/><circle cx="111.70" cy="542.00" r="2.3"/><circle cx="120.90" cy="546.90" r="2.3"/><circle cx="128.20" cy="550.90" r="2.3"/><circle cx="136.50" cy="561.00" r="2.3"/><circle cx="144.50" cy="561.50" r="2.3"/><circle cx="152.70" cy="560.00" r="2.3"/><circle cx="160.90" cy="556.70" r="2.3"/><circle cx="177.30" cy="557.80" r="2.3"/><circle cx="192.70" cy="567.60" r="2.3"/><circle cx="208.50" cy="574.90" r="2.3"/><circle cx="225.20" cy="570.30" r="2.3"/><circle cx="248.70" cy="576.80" r="2.3"/><circle cx="272.20" cy="584.10" r="2.3"/><circle cx="54.80" cy="532.30" r="2.3"/><circle cx="59.10" cy="534.70" r="2.3"/><circle cx="63.20" cy="538.80" r="2.3"/><circle cx="67.60" cy="544.40" r="2.3"/><circle cx="71.70" cy="550.50" r="2.3"/><circle cx="75.80" cy="558.20" r="2.3"/><circle cx="80.20" cy="568.70" r="2.3"/><circle cx="84.40" cy="582.70" r="2.3"/><circle cx="88.20" cy="588.00" r="2.3"/><circle cx="92.70" cy="582.40" r="2.3"/><circle cx="96.50" cy="574.80" r="2.3"/><circle cx="104.00" cy="566.80" r="2.3"/><circle cx="112.40" cy="566.40" r="2.3"/><circle cx="120.50" cy="569.50" r="2.3"/><circle cx="128.50" cy="576.40" r="2.3"/><circle cx="136.40" cy="582.20" r="2.3"/><circle cx="144.50" cy="585.50" r="2.3"/><circle cx="152.70" cy="583.60" r="2.3"/><circle cx="160.90" cy="582.20" r="2.3"/><circle cx="168.70" cy="581.80" r="2.3"/><circle cx="176.70" cy="585.50" r="2.3"/><circle cx="184.70" cy="590.00" r="2.3"/><circle cx="193.10" cy="596.40" r="2.3"/><circle cx="200.90" cy="600.60" r="2.3"/><circle cx="208.70" cy="598.80" r="2.3"/><circle cx="216.90" cy="596.60" r="2.3"/><circle cx="225.20" cy="598.40" r="2.3"/><circle cx="233.40" cy="598.70" r="2.3"/><circle cx="241.40" cy="601.50" r="2.3"/><circle cx="249.00" cy="606.40" r="2.3"/><circle cx="256.90" cy="614.80" r="2.3"/><circle cx="264.90" cy="620.60" r="2.3"/><circle cx="272.60" cy="614.80" r="2.3"/><circle cx="282.30" cy="607.70" r="2.3"/><circle cx="289.50" cy="606.80" r="2.3"/><circle cx="297.30" cy="605.50" r="2.3"/><circle cx="58.40" cy="561.40" r="2.3"/><circle cx="63.50" cy="566.00" r="2.3"/><circle cx="69.10" cy="572.70" r="2.3"/><circle cx="75.80" cy="586.70" r="2.3"/><circle cx="80.60" cy="602.10" r="2.3"/><circle cx="83.00" cy="606.40" r="2.3"/><circle cx="83.30" cy="610.00" r="2.3"/><circle cx="90.30" cy="604.00" r="2.3"/><circle cx="97.30" cy="591.80" r="2.3"/><circle cx="104.50" cy="590.90" r="2.3"/><circle cx="113.60" cy="592.20" r="2.3"/><circle cx="120.50" cy="597.50" r="2.3"/><circle cx="128.70" cy="602.00" r="2.3"/><circle cx="136.40" cy="604.50" r="2.3"/><circle cx="144.50" cy="608.50" r="2.3"/><circle cx="152.50" cy="607.40" r="2.3"/><circle cx="160.10" cy="607.50" r="2.3"/><circle cx="168.20" cy="607.50" r="2.3"/><circle cx="176.20" cy="613.00" r="2.3"/><circle cx="183.50" cy="622.70" r="2.3"/><circle cx="55.60" cy="585.50" r="2.3"/><circle cx="59.60" cy="588.10" r="2.3"/><circle cx="63.30" cy="592.30" r="2.3"/><circle cx="67.40" cy="597.30" r="2.3"/><circle cx="71.80" cy="604.60" r="2.3"/><circle cx="79.40" cy="628.20" r="2.3"/><circle cx="87.90" cy="637.30" r="2.3"/><circle cx="95.50" cy="620.90" r="2.3"/><circle cx="104.50" cy="617.30" r="2.3"/><circle cx="112.50" cy="620.00" r="2.3"/><circle cx="120.50" cy="625.80" r="2.3"/><circle cx="128.40" cy="633.60" r="2.3"/><circle cx="136.50" cy="637.80" r="2.3"/><circle cx="144.10" cy="636.60" r="2.3"/><circle cx="152.60" cy="636.30" r="2.3"/><circle cx="160.90" cy="639.70" r="2.3"/><circle cx="168.90" cy="642.80" r="2.3"/><circle cx="177.20" cy="648.70" r="2.3"/><circle cx="185.20" cy="652.50" r="2.3"/><circle cx="193.20" cy="655.90" r="2.3"/><circle cx="200.90" cy="655.00" r="2.3"/><circle cx="208.70" cy="655.00" r="2.3"/><circle cx="216.70" cy="658.40" r="2.3"/><circle cx="225.20" cy="660.80" r="2.3"/><circle cx="233.00" cy="663.60" r="2.3"/><circle cx="241.00" cy="667.30" r="2.3"/><circle cx="248.70" cy="671.60" r="2.3"/><circle cx="256.70" cy="675.00" r="2.3"/><circle cx="264.50" cy="676.50" r="2.3"/><circle cx="272.50" cy="675.00" r="2.3"/><circle cx="281.00" cy="673.00" r="2.3"/><circle cx="297.70" cy="669.10" r="2.3"/><circle cx="42.80" cy="595.40" r="2.3"/><circle cx="47.10" cy="596.10" r="2.3"/><circle cx="51.30" cy="598.80" r="2.3"/><circle cx="52.80" cy="600.50" r="2.3"/><circle cx="56.20" cy="603.00" r="2.3"/><circle cx="57.60" cy="605.00" r="2.3"/><circle cx="60.40" cy="609.10" r="2.3"/><circle cx="61.60" cy="611.00" r="2.3"/><circle cx="64.40" cy="615.20" r="2.3"/><circle cx="65.20" cy="617.00" r="2.3"/><circle cx="68.90" cy="622.40" r="2.3"/><circle cx="72.30" cy="630.30" r="2.3"/><circle cx="76.20" cy="638.80" r="2.3"/><circle cx="78.10" cy="643.60" r="2.3"/><circle cx="83.50" cy="642.70" r="2.3"/><circle cx="86.60" cy="642.70" r="2.3"/><circle cx="91.70" cy="642.70" r="2.3"/><circle cx="103.60" cy="654.50" r="2.3"/><circle cx="114.50" cy="670.00" r="2.3"/><circle cx="125.50" cy="670.00" r="2.3"/><circle cx="42.80" cy="621.20" r="2.3"/><circle cx="47.70" cy="622.10" r="2.3"/><circle cx="51.90" cy="626.10" r="2.3"/><circle cx="56.20" cy="630.30" r="2.3"/><circle cx="57.30" cy="632.50" r="2.3"/><circle cx="60.40" cy="637.00" r="2.3"/><circle cx="61.20" cy="639.00" r="2.3"/><circle cx="64.50" cy="643.60" r="2.3"/><circle cx="68.10" cy="653.60" r="2.3"/><circle cx="71.70" cy="662.70" r="2.3"/><circle cx="75.40" cy="671.00" r="2.3"/><circle cx="78.10" cy="675.50" r="2.3"/><circle cx="83.50" cy="673.60" r="2.3"/><circle cx="86.60" cy="673.00" r="2.3"/><circle cx="90.80" cy="673.60" r="2.3"/><circle cx="93.50" cy="677.30" r="2.3"/><circle cx="104.10" cy="694.00" r="2.3"/><circle cx="114.60" cy="707.60" r="2.3"/><circle cx="125.00" cy="709.00" r="2.3"/><circle cx="42.80" cy="647.20" r="2.3"/><circle cx="47.10" cy="649.20" r="2.3"/><circle cx="51.60" cy="653.00" r="2.3"/><circle cx="56.20" cy="658.10" r="2.3"/><circle cx="59.80" cy="664.00" r="2.3"/><circle cx="64.10" cy="673.60" r="2.3"/><circle cx="68.50" cy="684.50" r="2.3"/><circle cx="72.00" cy="694.20" r="2.3"/><circle cx="75.40" cy="703.60" r="2.3"/><circle cx="78.50" cy="703.00" r="2.3"/><circle cx="82.60" cy="702.70" r="2.3"/><circle cx="85.40" cy="703.60" r="2.3"/><circle cx="88.00" cy="704.50" r="2.3"/><circle cx="90.80" cy="706.40" r="2.3"/><circle cx="93.50" cy="710.00" r="2.3"/><circle cx="104.10" cy="731.80" r="2.3"/><circle cx="114.60" cy="734.50" r="2.3"/><circle cx="125.00" cy="743.60" r="2.3"/><circle cx="53.80" cy="686.00" r="2.3"/><circle cx="57.20" cy="689.60" r="2.3"/><circle cx="59.80" cy="695.50" r="2.3"/><circle cx="62.80" cy="702.70" r="2.3"/><circle cx="66.50" cy="714.50" r="2.3"/><circle cx="68.60" cy="719.40" r="2.3"/><circle cx="72.30" cy="728.20" r="2.3"/><circle cx="75.90" cy="729.10" r="2.3"/><circle cx="78.60" cy="727.30" r="2.3"/><circle cx="81.40" cy="730.00" r="2.3"/><circle cx="85.00" cy="730.90" r="2.3"/><circle cx="86.80" cy="734.50" r="2.3"/><circle cx="89.50" cy="736.40" r="2.3"/><circle cx="92.30" cy="742.70" r="2.3"/><circle cx="95.00" cy="749.10" r="2.3"/><circle cx="98.60" cy="753.60" r="2.3"/><circle cx="101.40" cy="754.50" r="2.3"/><circle cx="105.90" cy="758.20" r="2.3"/><circle cx="107.70" cy="761.80" r="2.3"/><circle cx="108.60" cy="764.50" r="2.3"/><circle cx="113.20" cy="758.50" r="2.3"/><circle cx="114.10" cy="767.30" r="2.3"/><circle cx="119.50" cy="767.30" r="2.3"/><circle cx="120.50" cy="770.90" r="2.3"/><circle cx="126.80" cy="775.50" r="2.3"/><circle cx="126.50" cy="783.20" r="2.3"/><circle cx="133.00" cy="786.10" r="2.3"/><circle cx="139.60" cy="790.90" r="2.3"/><circle cx="145.90" cy="786.10" r="2.3"/><circle cx="152.40" cy="794.50" r="2.3"/></g>
</g>
<text x="213.10" y="512.50" font-size="8.7" font-weight="bold">13.92 MeV</text><text x="213.10" y="539.20" font-size="8.7" font-weight="bold">14.7</text><text x="213.50" y="568.40" font-size="8.7" font-weight="bold">20.0</text><text x="213.10" y="594.80" font-size="8.7" font-weight="bold">21.6</text><text x="212.20" y="626.50" font-size="8.7" font-weight="bold">24.8</text><text x="204.80" y="653.20" font-size="8.7" font-weight="bold">26.0</text><text x="190.80" y="713.40" font-size="8.7" font-weight="bold">55.0</text><text x="180.70" y="746.00" font-size="8.7" font-weight="bold">65.0</text><text x="172.00" y="776.60" font-size="8.7" font-weight="bold">75.0</text><text x="156.10" y="805.50" font-size="8.7" font-weight="bold">96.0</text>
</svg></body></html>
